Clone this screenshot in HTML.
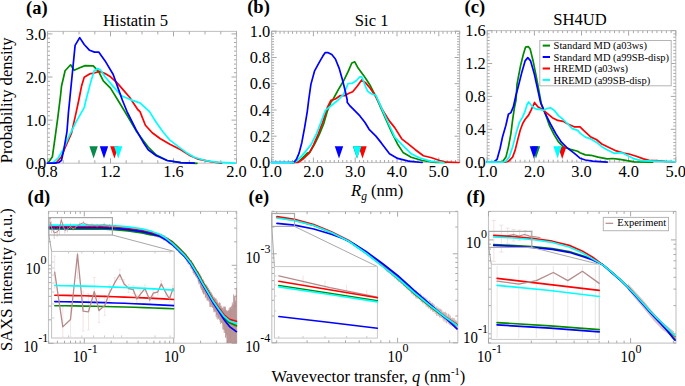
<!DOCTYPE html><html><head><meta charset="utf-8"><style>html,body{margin:0;padding:0;background:#fff;overflow:hidden;}svg{display:block;}text{font-family:"Liberation Serif",serif;fill:#000;}</style></head><body>
<svg width="685" height="386" viewBox="0 0 685 386">
<defs><clipPath id="cd"><rect x="51.6" y="251.4" width="122.6" height="86.6"/></clipPath><clipPath id="ce"><rect x="274.4" y="266.6" width="103" height="71.5"/></clipPath><clipPath id="cf"><rect x="491.3" y="264.3" width="107.9" height="75.1"/></clipPath></defs>
<rect x="47.5" y="31.4" width="189.0" height="131.79999999999998" fill="none" stroke="#c4c4c4" stroke-width="1.1"/>
<line x1="63.2" y1="31.4" x2="63.2" y2="34.4" stroke="#a8a8a8" stroke-width="1"/>
<line x1="63.2" y1="163.2" x2="63.2" y2="160.2" stroke="#a8a8a8" stroke-width="1"/>
<line x1="79.0" y1="31.4" x2="79.0" y2="34.4" stroke="#a8a8a8" stroke-width="1"/>
<line x1="79.0" y1="163.2" x2="79.0" y2="160.2" stroke="#a8a8a8" stroke-width="1"/>
<line x1="94.8" y1="31.4" x2="94.8" y2="34.4" stroke="#a8a8a8" stroke-width="1"/>
<line x1="94.8" y1="163.2" x2="94.8" y2="160.2" stroke="#a8a8a8" stroke-width="1"/>
<line x1="126.2" y1="31.4" x2="126.2" y2="34.4" stroke="#a8a8a8" stroke-width="1"/>
<line x1="126.2" y1="163.2" x2="126.2" y2="160.2" stroke="#a8a8a8" stroke-width="1"/>
<line x1="142.0" y1="31.4" x2="142.0" y2="34.4" stroke="#a8a8a8" stroke-width="1"/>
<line x1="142.0" y1="163.2" x2="142.0" y2="160.2" stroke="#a8a8a8" stroke-width="1"/>
<line x1="157.8" y1="31.4" x2="157.8" y2="34.4" stroke="#a8a8a8" stroke-width="1"/>
<line x1="157.8" y1="163.2" x2="157.8" y2="160.2" stroke="#a8a8a8" stroke-width="1"/>
<line x1="189.3" y1="31.4" x2="189.3" y2="34.4" stroke="#a8a8a8" stroke-width="1"/>
<line x1="189.3" y1="163.2" x2="189.3" y2="160.2" stroke="#a8a8a8" stroke-width="1"/>
<line x1="205.0" y1="31.4" x2="205.0" y2="34.4" stroke="#a8a8a8" stroke-width="1"/>
<line x1="205.0" y1="163.2" x2="205.0" y2="160.2" stroke="#a8a8a8" stroke-width="1"/>
<line x1="220.8" y1="31.4" x2="220.8" y2="34.4" stroke="#a8a8a8" stroke-width="1"/>
<line x1="220.8" y1="163.2" x2="220.8" y2="160.2" stroke="#a8a8a8" stroke-width="1"/>
<line x1="47.5" y1="31.4" x2="47.5" y2="36.4" stroke="#a8a8a8" stroke-width="1"/>
<line x1="47.5" y1="163.2" x2="47.5" y2="158.2" stroke="#a8a8a8" stroke-width="1"/>
<line x1="110.5" y1="31.4" x2="110.5" y2="36.4" stroke="#a8a8a8" stroke-width="1"/>
<line x1="110.5" y1="163.2" x2="110.5" y2="158.2" stroke="#a8a8a8" stroke-width="1"/>
<line x1="173.5" y1="31.4" x2="173.5" y2="36.4" stroke="#a8a8a8" stroke-width="1"/>
<line x1="173.5" y1="163.2" x2="173.5" y2="158.2" stroke="#a8a8a8" stroke-width="1"/>
<line x1="236.5" y1="31.4" x2="236.5" y2="36.4" stroke="#a8a8a8" stroke-width="1"/>
<line x1="236.5" y1="163.2" x2="236.5" y2="158.2" stroke="#a8a8a8" stroke-width="1"/>
<line x1="47.5" y1="158.9" x2="50.0" y2="158.9" stroke="#a8a8a8" stroke-width="1"/>
<line x1="236.5" y1="158.9" x2="234.0" y2="158.9" stroke="#a8a8a8" stroke-width="1"/>
<line x1="47.5" y1="154.6" x2="50.0" y2="154.6" stroke="#a8a8a8" stroke-width="1"/>
<line x1="236.5" y1="154.6" x2="234.0" y2="154.6" stroke="#a8a8a8" stroke-width="1"/>
<line x1="47.5" y1="150.3" x2="50.0" y2="150.3" stroke="#a8a8a8" stroke-width="1"/>
<line x1="236.5" y1="150.3" x2="234.0" y2="150.3" stroke="#a8a8a8" stroke-width="1"/>
<line x1="47.5" y1="146.0" x2="50.0" y2="146.0" stroke="#a8a8a8" stroke-width="1"/>
<line x1="236.5" y1="146.0" x2="234.0" y2="146.0" stroke="#a8a8a8" stroke-width="1"/>
<line x1="47.5" y1="141.6" x2="50.0" y2="141.6" stroke="#a8a8a8" stroke-width="1"/>
<line x1="236.5" y1="141.6" x2="234.0" y2="141.6" stroke="#a8a8a8" stroke-width="1"/>
<line x1="47.5" y1="137.3" x2="50.0" y2="137.3" stroke="#a8a8a8" stroke-width="1"/>
<line x1="236.5" y1="137.3" x2="234.0" y2="137.3" stroke="#a8a8a8" stroke-width="1"/>
<line x1="47.5" y1="133.0" x2="50.0" y2="133.0" stroke="#a8a8a8" stroke-width="1"/>
<line x1="236.5" y1="133.0" x2="234.0" y2="133.0" stroke="#a8a8a8" stroke-width="1"/>
<line x1="47.5" y1="128.7" x2="50.0" y2="128.7" stroke="#a8a8a8" stroke-width="1"/>
<line x1="236.5" y1="128.7" x2="234.0" y2="128.7" stroke="#a8a8a8" stroke-width="1"/>
<line x1="47.5" y1="124.4" x2="50.0" y2="124.4" stroke="#a8a8a8" stroke-width="1"/>
<line x1="236.5" y1="124.4" x2="234.0" y2="124.4" stroke="#a8a8a8" stroke-width="1"/>
<line x1="47.5" y1="115.8" x2="50.0" y2="115.8" stroke="#a8a8a8" stroke-width="1"/>
<line x1="236.5" y1="115.8" x2="234.0" y2="115.8" stroke="#a8a8a8" stroke-width="1"/>
<line x1="47.5" y1="111.5" x2="50.0" y2="111.5" stroke="#a8a8a8" stroke-width="1"/>
<line x1="236.5" y1="111.5" x2="234.0" y2="111.5" stroke="#a8a8a8" stroke-width="1"/>
<line x1="47.5" y1="107.2" x2="50.0" y2="107.2" stroke="#a8a8a8" stroke-width="1"/>
<line x1="236.5" y1="107.2" x2="234.0" y2="107.2" stroke="#a8a8a8" stroke-width="1"/>
<line x1="47.5" y1="102.9" x2="50.0" y2="102.9" stroke="#a8a8a8" stroke-width="1"/>
<line x1="236.5" y1="102.9" x2="234.0" y2="102.9" stroke="#a8a8a8" stroke-width="1"/>
<line x1="47.5" y1="98.5" x2="50.0" y2="98.5" stroke="#a8a8a8" stroke-width="1"/>
<line x1="236.5" y1="98.5" x2="234.0" y2="98.5" stroke="#a8a8a8" stroke-width="1"/>
<line x1="47.5" y1="94.2" x2="50.0" y2="94.2" stroke="#a8a8a8" stroke-width="1"/>
<line x1="236.5" y1="94.2" x2="234.0" y2="94.2" stroke="#a8a8a8" stroke-width="1"/>
<line x1="47.5" y1="89.9" x2="50.0" y2="89.9" stroke="#a8a8a8" stroke-width="1"/>
<line x1="236.5" y1="89.9" x2="234.0" y2="89.9" stroke="#a8a8a8" stroke-width="1"/>
<line x1="47.5" y1="85.6" x2="50.0" y2="85.6" stroke="#a8a8a8" stroke-width="1"/>
<line x1="236.5" y1="85.6" x2="234.0" y2="85.6" stroke="#a8a8a8" stroke-width="1"/>
<line x1="47.5" y1="81.3" x2="50.0" y2="81.3" stroke="#a8a8a8" stroke-width="1"/>
<line x1="236.5" y1="81.3" x2="234.0" y2="81.3" stroke="#a8a8a8" stroke-width="1"/>
<line x1="47.5" y1="72.7" x2="50.0" y2="72.7" stroke="#a8a8a8" stroke-width="1"/>
<line x1="236.5" y1="72.7" x2="234.0" y2="72.7" stroke="#a8a8a8" stroke-width="1"/>
<line x1="47.5" y1="68.4" x2="50.0" y2="68.4" stroke="#a8a8a8" stroke-width="1"/>
<line x1="236.5" y1="68.4" x2="234.0" y2="68.4" stroke="#a8a8a8" stroke-width="1"/>
<line x1="47.5" y1="64.1" x2="50.0" y2="64.1" stroke="#a8a8a8" stroke-width="1"/>
<line x1="236.5" y1="64.1" x2="234.0" y2="64.1" stroke="#a8a8a8" stroke-width="1"/>
<line x1="47.5" y1="59.8" x2="50.0" y2="59.8" stroke="#a8a8a8" stroke-width="1"/>
<line x1="236.5" y1="59.8" x2="234.0" y2="59.8" stroke="#a8a8a8" stroke-width="1"/>
<line x1="47.5" y1="55.4" x2="50.0" y2="55.4" stroke="#a8a8a8" stroke-width="1"/>
<line x1="236.5" y1="55.4" x2="234.0" y2="55.4" stroke="#a8a8a8" stroke-width="1"/>
<line x1="47.5" y1="51.1" x2="50.0" y2="51.1" stroke="#a8a8a8" stroke-width="1"/>
<line x1="236.5" y1="51.1" x2="234.0" y2="51.1" stroke="#a8a8a8" stroke-width="1"/>
<line x1="47.5" y1="46.8" x2="50.0" y2="46.8" stroke="#a8a8a8" stroke-width="1"/>
<line x1="236.5" y1="46.8" x2="234.0" y2="46.8" stroke="#a8a8a8" stroke-width="1"/>
<line x1="47.5" y1="42.5" x2="50.0" y2="42.5" stroke="#a8a8a8" stroke-width="1"/>
<line x1="236.5" y1="42.5" x2="234.0" y2="42.5" stroke="#a8a8a8" stroke-width="1"/>
<line x1="47.5" y1="38.2" x2="50.0" y2="38.2" stroke="#a8a8a8" stroke-width="1"/>
<line x1="236.5" y1="38.2" x2="234.0" y2="38.2" stroke="#a8a8a8" stroke-width="1"/>
<line x1="47.5" y1="163.2" x2="52.5" y2="163.2" stroke="#a8a8a8" stroke-width="1"/>
<line x1="236.5" y1="163.2" x2="231.5" y2="163.2" stroke="#a8a8a8" stroke-width="1"/>
<line x1="47.5" y1="120.1" x2="52.5" y2="120.1" stroke="#a8a8a8" stroke-width="1"/>
<line x1="236.5" y1="120.1" x2="231.5" y2="120.1" stroke="#a8a8a8" stroke-width="1"/>
<line x1="47.5" y1="77.0" x2="52.5" y2="77.0" stroke="#a8a8a8" stroke-width="1"/>
<line x1="236.5" y1="77.0" x2="231.5" y2="77.0" stroke="#a8a8a8" stroke-width="1"/>
<line x1="47.5" y1="33.9" x2="52.5" y2="33.9" stroke="#a8a8a8" stroke-width="1"/>
<line x1="236.5" y1="33.9" x2="231.5" y2="33.9" stroke="#a8a8a8" stroke-width="1"/>
<text x="46.2" y="168.89999999999998" font-size="16.4" text-anchor="end" font-weight="normal" font-style="normal" >0.0</text>
<text x="46.2" y="125.8" font-size="16.4" text-anchor="end" font-weight="normal" font-style="normal" >1.0</text>
<text x="46.2" y="82.69999999999999" font-size="16.4" text-anchor="end" font-weight="normal" font-style="normal" >2.0</text>
<text x="46.2" y="39.59999999999998" font-size="16.4" text-anchor="end" font-weight="normal" font-style="normal" >3.0</text>
<text x="47.5" y="176.5" font-size="16.4" text-anchor="middle" font-weight="normal" font-style="normal" >0.8</text>
<text x="110.49999999999999" y="176.5" font-size="16.4" text-anchor="middle" font-weight="normal" font-style="normal" >1.2</text>
<text x="173.5" y="176.5" font-size="16.4" text-anchor="middle" font-weight="normal" font-style="normal" >1.6</text>
<text x="236.5" y="176.5" font-size="16.4" text-anchor="middle" font-weight="normal" font-style="normal" >2.0</text>
<polyline points="47.9,163.0 50.6,159.4 52.4,156.7 55.2,136.7 57.9,116.8 60.6,95.0 61.5,86.3 65.1,70.8 70.6,64.8 74.2,70.3 79.7,67.7 85.1,65.6 93.3,65.9 98.7,71.7 103.3,80.8 110.5,88.1 117.8,100.0 126.9,115.0 135.9,130.4 143.2,140.4 148.2,147.0 156.3,155.1 167.2,160.5 180.8,162.7 197.0,163.3" fill="none" stroke="#008a00" stroke-width="1.7" stroke-linejoin="round" stroke-linecap="round" />
<polyline points="47.5,163.2 56.1,163.0 61.5,156.7 65.1,147.6 71.5,133.1 76.0,113.1 78.8,100.0 81.5,86.3 84.2,77.2 89.6,73.9 94.2,73.0 99.6,71.4 105.1,73.6 110.5,76.8 116.9,82.6 123.2,89.9 129.6,97.2 137.7,109.5 140.0,111.6 145.4,125.2 152.2,132.8 160.4,138.8 169.9,144.2 180.8,149.7 190.3,155.7 198.4,159.2 210.7,161.6 221.5,163.2" fill="none" stroke="#ff0000" stroke-width="1.7" stroke-linejoin="round" stroke-linecap="round" />
<polyline points="47.5,163.2 52.4,163.0 57.9,158.5 63.3,149.4 68.8,136.7 76.0,122.2 84.2,107.7 86.0,100.0 90.6,82.6 94.2,70.8 97.8,68.5 100.5,69.9 105.1,76.8 111.4,84.4 118.7,92.6 121.4,95.9 125.0,97.2 132.3,100.4 140.0,102.9 149.5,111.6 156.3,122.5 163.1,132.0 169.9,140.2 178.0,146.4 186.2,152.4 194.3,157.3 205.2,160.5 216.1,162.2 235.0,163.2" fill="none" stroke="#00ffff" stroke-width="1.7" stroke-linejoin="round" stroke-linecap="round" />
<polyline points="47.5,163.2 54.3,163.1 58.8,162.5 61.5,160.3 64.2,147.6 67.0,131.3 68.4,113.1 70.2,95.0 75.1,45.4 79.7,37.6 84.2,44.5 89.6,50.3 94.5,52.1 98.7,52.1 105.1,60.9 113.2,74.5 118.7,89.9 122.3,100.0 126.9,111.3 135.9,129.5 143.2,142.2 148.2,149.7 156.3,155.7 167.2,160.5 180.8,162.7 194.3,163.2" fill="none" stroke="#0000ff" stroke-width="1.7" stroke-linejoin="round" stroke-linecap="round" />
<polygon points="89.4,146.3 97.8,146.3 93.6,158.5" fill="#0a8a4a"/>
<polygon points="99.8,146.3 108.2,146.3 104.0,158.5" fill="#0000ff"/>
<polygon points="110.2,146.3 118.6,146.3 114.4,158.5" fill="#ff0000"/>
<polygon points="114.0,146.3 122.4,146.3 118.2,158.5" fill="#00ffff"/>
<rect x="271.6" y="31.3" width="188.0" height="131.2" fill="none" stroke="#c4c4c4" stroke-width="1.1"/>
<line x1="275.8" y1="31.3" x2="275.8" y2="33.8" stroke="#a8a8a8" stroke-width="1"/>
<line x1="275.8" y1="162.5" x2="275.8" y2="160.0" stroke="#a8a8a8" stroke-width="1"/>
<line x1="280.0" y1="31.3" x2="280.0" y2="33.8" stroke="#a8a8a8" stroke-width="1"/>
<line x1="280.0" y1="162.5" x2="280.0" y2="160.0" stroke="#a8a8a8" stroke-width="1"/>
<line x1="284.1" y1="31.3" x2="284.1" y2="33.8" stroke="#a8a8a8" stroke-width="1"/>
<line x1="284.1" y1="162.5" x2="284.1" y2="160.0" stroke="#a8a8a8" stroke-width="1"/>
<line x1="288.3" y1="31.3" x2="288.3" y2="33.8" stroke="#a8a8a8" stroke-width="1"/>
<line x1="288.3" y1="162.5" x2="288.3" y2="160.0" stroke="#a8a8a8" stroke-width="1"/>
<line x1="292.5" y1="31.3" x2="292.5" y2="33.8" stroke="#a8a8a8" stroke-width="1"/>
<line x1="292.5" y1="162.5" x2="292.5" y2="160.0" stroke="#a8a8a8" stroke-width="1"/>
<line x1="296.7" y1="31.3" x2="296.7" y2="33.8" stroke="#a8a8a8" stroke-width="1"/>
<line x1="296.7" y1="162.5" x2="296.7" y2="160.0" stroke="#a8a8a8" stroke-width="1"/>
<line x1="300.9" y1="31.3" x2="300.9" y2="33.8" stroke="#a8a8a8" stroke-width="1"/>
<line x1="300.9" y1="162.5" x2="300.9" y2="160.0" stroke="#a8a8a8" stroke-width="1"/>
<line x1="305.0" y1="31.3" x2="305.0" y2="33.8" stroke="#a8a8a8" stroke-width="1"/>
<line x1="305.0" y1="162.5" x2="305.0" y2="160.0" stroke="#a8a8a8" stroke-width="1"/>
<line x1="309.2" y1="31.3" x2="309.2" y2="33.8" stroke="#a8a8a8" stroke-width="1"/>
<line x1="309.2" y1="162.5" x2="309.2" y2="160.0" stroke="#a8a8a8" stroke-width="1"/>
<line x1="317.6" y1="31.3" x2="317.6" y2="33.8" stroke="#a8a8a8" stroke-width="1"/>
<line x1="317.6" y1="162.5" x2="317.6" y2="160.0" stroke="#a8a8a8" stroke-width="1"/>
<line x1="321.8" y1="31.3" x2="321.8" y2="33.8" stroke="#a8a8a8" stroke-width="1"/>
<line x1="321.8" y1="162.5" x2="321.8" y2="160.0" stroke="#a8a8a8" stroke-width="1"/>
<line x1="325.9" y1="31.3" x2="325.9" y2="33.8" stroke="#a8a8a8" stroke-width="1"/>
<line x1="325.9" y1="162.5" x2="325.9" y2="160.0" stroke="#a8a8a8" stroke-width="1"/>
<line x1="330.1" y1="31.3" x2="330.1" y2="33.8" stroke="#a8a8a8" stroke-width="1"/>
<line x1="330.1" y1="162.5" x2="330.1" y2="160.0" stroke="#a8a8a8" stroke-width="1"/>
<line x1="334.3" y1="31.3" x2="334.3" y2="33.8" stroke="#a8a8a8" stroke-width="1"/>
<line x1="334.3" y1="162.5" x2="334.3" y2="160.0" stroke="#a8a8a8" stroke-width="1"/>
<line x1="338.5" y1="31.3" x2="338.5" y2="33.8" stroke="#a8a8a8" stroke-width="1"/>
<line x1="338.5" y1="162.5" x2="338.5" y2="160.0" stroke="#a8a8a8" stroke-width="1"/>
<line x1="342.7" y1="31.3" x2="342.7" y2="33.8" stroke="#a8a8a8" stroke-width="1"/>
<line x1="342.7" y1="162.5" x2="342.7" y2="160.0" stroke="#a8a8a8" stroke-width="1"/>
<line x1="346.8" y1="31.3" x2="346.8" y2="33.8" stroke="#a8a8a8" stroke-width="1"/>
<line x1="346.8" y1="162.5" x2="346.8" y2="160.0" stroke="#a8a8a8" stroke-width="1"/>
<line x1="351.0" y1="31.3" x2="351.0" y2="33.8" stroke="#a8a8a8" stroke-width="1"/>
<line x1="351.0" y1="162.5" x2="351.0" y2="160.0" stroke="#a8a8a8" stroke-width="1"/>
<line x1="359.4" y1="31.3" x2="359.4" y2="33.8" stroke="#a8a8a8" stroke-width="1"/>
<line x1="359.4" y1="162.5" x2="359.4" y2="160.0" stroke="#a8a8a8" stroke-width="1"/>
<line x1="363.6" y1="31.3" x2="363.6" y2="33.8" stroke="#a8a8a8" stroke-width="1"/>
<line x1="363.6" y1="162.5" x2="363.6" y2="160.0" stroke="#a8a8a8" stroke-width="1"/>
<line x1="367.7" y1="31.3" x2="367.7" y2="33.8" stroke="#a8a8a8" stroke-width="1"/>
<line x1="367.7" y1="162.5" x2="367.7" y2="160.0" stroke="#a8a8a8" stroke-width="1"/>
<line x1="371.9" y1="31.3" x2="371.9" y2="33.8" stroke="#a8a8a8" stroke-width="1"/>
<line x1="371.9" y1="162.5" x2="371.9" y2="160.0" stroke="#a8a8a8" stroke-width="1"/>
<line x1="376.1" y1="31.3" x2="376.1" y2="33.8" stroke="#a8a8a8" stroke-width="1"/>
<line x1="376.1" y1="162.5" x2="376.1" y2="160.0" stroke="#a8a8a8" stroke-width="1"/>
<line x1="380.3" y1="31.3" x2="380.3" y2="33.8" stroke="#a8a8a8" stroke-width="1"/>
<line x1="380.3" y1="162.5" x2="380.3" y2="160.0" stroke="#a8a8a8" stroke-width="1"/>
<line x1="384.5" y1="31.3" x2="384.5" y2="33.8" stroke="#a8a8a8" stroke-width="1"/>
<line x1="384.5" y1="162.5" x2="384.5" y2="160.0" stroke="#a8a8a8" stroke-width="1"/>
<line x1="388.6" y1="31.3" x2="388.6" y2="33.8" stroke="#a8a8a8" stroke-width="1"/>
<line x1="388.6" y1="162.5" x2="388.6" y2="160.0" stroke="#a8a8a8" stroke-width="1"/>
<line x1="392.8" y1="31.3" x2="392.8" y2="33.8" stroke="#a8a8a8" stroke-width="1"/>
<line x1="392.8" y1="162.5" x2="392.8" y2="160.0" stroke="#a8a8a8" stroke-width="1"/>
<line x1="401.2" y1="31.3" x2="401.2" y2="33.8" stroke="#a8a8a8" stroke-width="1"/>
<line x1="401.2" y1="162.5" x2="401.2" y2="160.0" stroke="#a8a8a8" stroke-width="1"/>
<line x1="405.4" y1="31.3" x2="405.4" y2="33.8" stroke="#a8a8a8" stroke-width="1"/>
<line x1="405.4" y1="162.5" x2="405.4" y2="160.0" stroke="#a8a8a8" stroke-width="1"/>
<line x1="409.5" y1="31.3" x2="409.5" y2="33.8" stroke="#a8a8a8" stroke-width="1"/>
<line x1="409.5" y1="162.5" x2="409.5" y2="160.0" stroke="#a8a8a8" stroke-width="1"/>
<line x1="413.7" y1="31.3" x2="413.7" y2="33.8" stroke="#a8a8a8" stroke-width="1"/>
<line x1="413.7" y1="162.5" x2="413.7" y2="160.0" stroke="#a8a8a8" stroke-width="1"/>
<line x1="417.9" y1="31.3" x2="417.9" y2="33.8" stroke="#a8a8a8" stroke-width="1"/>
<line x1="417.9" y1="162.5" x2="417.9" y2="160.0" stroke="#a8a8a8" stroke-width="1"/>
<line x1="422.1" y1="31.3" x2="422.1" y2="33.8" stroke="#a8a8a8" stroke-width="1"/>
<line x1="422.1" y1="162.5" x2="422.1" y2="160.0" stroke="#a8a8a8" stroke-width="1"/>
<line x1="426.3" y1="31.3" x2="426.3" y2="33.8" stroke="#a8a8a8" stroke-width="1"/>
<line x1="426.3" y1="162.5" x2="426.3" y2="160.0" stroke="#a8a8a8" stroke-width="1"/>
<line x1="430.4" y1="31.3" x2="430.4" y2="33.8" stroke="#a8a8a8" stroke-width="1"/>
<line x1="430.4" y1="162.5" x2="430.4" y2="160.0" stroke="#a8a8a8" stroke-width="1"/>
<line x1="434.6" y1="31.3" x2="434.6" y2="33.8" stroke="#a8a8a8" stroke-width="1"/>
<line x1="434.6" y1="162.5" x2="434.6" y2="160.0" stroke="#a8a8a8" stroke-width="1"/>
<line x1="443.0" y1="31.3" x2="443.0" y2="33.8" stroke="#a8a8a8" stroke-width="1"/>
<line x1="443.0" y1="162.5" x2="443.0" y2="160.0" stroke="#a8a8a8" stroke-width="1"/>
<line x1="447.2" y1="31.3" x2="447.2" y2="33.8" stroke="#a8a8a8" stroke-width="1"/>
<line x1="447.2" y1="162.5" x2="447.2" y2="160.0" stroke="#a8a8a8" stroke-width="1"/>
<line x1="451.3" y1="31.3" x2="451.3" y2="33.8" stroke="#a8a8a8" stroke-width="1"/>
<line x1="451.3" y1="162.5" x2="451.3" y2="160.0" stroke="#a8a8a8" stroke-width="1"/>
<line x1="455.5" y1="31.3" x2="455.5" y2="33.8" stroke="#a8a8a8" stroke-width="1"/>
<line x1="455.5" y1="162.5" x2="455.5" y2="160.0" stroke="#a8a8a8" stroke-width="1"/>
<line x1="459.7" y1="31.3" x2="459.7" y2="33.8" stroke="#a8a8a8" stroke-width="1"/>
<line x1="459.7" y1="162.5" x2="459.7" y2="160.0" stroke="#a8a8a8" stroke-width="1"/>
<line x1="271.6" y1="31.3" x2="271.6" y2="36.3" stroke="#a8a8a8" stroke-width="1"/>
<line x1="271.6" y1="162.5" x2="271.6" y2="157.5" stroke="#a8a8a8" stroke-width="1"/>
<line x1="313.4" y1="31.3" x2="313.4" y2="36.3" stroke="#a8a8a8" stroke-width="1"/>
<line x1="313.4" y1="162.5" x2="313.4" y2="157.5" stroke="#a8a8a8" stroke-width="1"/>
<line x1="355.2" y1="31.3" x2="355.2" y2="36.3" stroke="#a8a8a8" stroke-width="1"/>
<line x1="355.2" y1="162.5" x2="355.2" y2="157.5" stroke="#a8a8a8" stroke-width="1"/>
<line x1="397.0" y1="31.3" x2="397.0" y2="36.3" stroke="#a8a8a8" stroke-width="1"/>
<line x1="397.0" y1="162.5" x2="397.0" y2="157.5" stroke="#a8a8a8" stroke-width="1"/>
<line x1="438.8" y1="31.3" x2="438.8" y2="36.3" stroke="#a8a8a8" stroke-width="1"/>
<line x1="438.8" y1="162.5" x2="438.8" y2="157.5" stroke="#a8a8a8" stroke-width="1"/>
<line x1="271.6" y1="159.9" x2="274.1" y2="159.9" stroke="#a8a8a8" stroke-width="1"/>
<line x1="459.6" y1="159.9" x2="457.1" y2="159.9" stroke="#a8a8a8" stroke-width="1"/>
<line x1="271.6" y1="157.2" x2="274.1" y2="157.2" stroke="#a8a8a8" stroke-width="1"/>
<line x1="459.6" y1="157.2" x2="457.1" y2="157.2" stroke="#a8a8a8" stroke-width="1"/>
<line x1="271.6" y1="154.6" x2="274.1" y2="154.6" stroke="#a8a8a8" stroke-width="1"/>
<line x1="459.6" y1="154.6" x2="457.1" y2="154.6" stroke="#a8a8a8" stroke-width="1"/>
<line x1="271.6" y1="152.0" x2="274.1" y2="152.0" stroke="#a8a8a8" stroke-width="1"/>
<line x1="459.6" y1="152.0" x2="457.1" y2="152.0" stroke="#a8a8a8" stroke-width="1"/>
<line x1="271.6" y1="149.4" x2="274.1" y2="149.4" stroke="#a8a8a8" stroke-width="1"/>
<line x1="459.6" y1="149.4" x2="457.1" y2="149.4" stroke="#a8a8a8" stroke-width="1"/>
<line x1="271.6" y1="146.7" x2="274.1" y2="146.7" stroke="#a8a8a8" stroke-width="1"/>
<line x1="459.6" y1="146.7" x2="457.1" y2="146.7" stroke="#a8a8a8" stroke-width="1"/>
<line x1="271.6" y1="144.1" x2="274.1" y2="144.1" stroke="#a8a8a8" stroke-width="1"/>
<line x1="459.6" y1="144.1" x2="457.1" y2="144.1" stroke="#a8a8a8" stroke-width="1"/>
<line x1="271.6" y1="141.5" x2="274.1" y2="141.5" stroke="#a8a8a8" stroke-width="1"/>
<line x1="459.6" y1="141.5" x2="457.1" y2="141.5" stroke="#a8a8a8" stroke-width="1"/>
<line x1="271.6" y1="138.9" x2="274.1" y2="138.9" stroke="#a8a8a8" stroke-width="1"/>
<line x1="459.6" y1="138.9" x2="457.1" y2="138.9" stroke="#a8a8a8" stroke-width="1"/>
<line x1="271.6" y1="133.6" x2="274.1" y2="133.6" stroke="#a8a8a8" stroke-width="1"/>
<line x1="459.6" y1="133.6" x2="457.1" y2="133.6" stroke="#a8a8a8" stroke-width="1"/>
<line x1="271.6" y1="131.0" x2="274.1" y2="131.0" stroke="#a8a8a8" stroke-width="1"/>
<line x1="459.6" y1="131.0" x2="457.1" y2="131.0" stroke="#a8a8a8" stroke-width="1"/>
<line x1="271.6" y1="128.4" x2="274.1" y2="128.4" stroke="#a8a8a8" stroke-width="1"/>
<line x1="459.6" y1="128.4" x2="457.1" y2="128.4" stroke="#a8a8a8" stroke-width="1"/>
<line x1="271.6" y1="125.7" x2="274.1" y2="125.7" stroke="#a8a8a8" stroke-width="1"/>
<line x1="459.6" y1="125.7" x2="457.1" y2="125.7" stroke="#a8a8a8" stroke-width="1"/>
<line x1="271.6" y1="123.1" x2="274.1" y2="123.1" stroke="#a8a8a8" stroke-width="1"/>
<line x1="459.6" y1="123.1" x2="457.1" y2="123.1" stroke="#a8a8a8" stroke-width="1"/>
<line x1="271.6" y1="120.5" x2="274.1" y2="120.5" stroke="#a8a8a8" stroke-width="1"/>
<line x1="459.6" y1="120.5" x2="457.1" y2="120.5" stroke="#a8a8a8" stroke-width="1"/>
<line x1="271.6" y1="117.9" x2="274.1" y2="117.9" stroke="#a8a8a8" stroke-width="1"/>
<line x1="459.6" y1="117.9" x2="457.1" y2="117.9" stroke="#a8a8a8" stroke-width="1"/>
<line x1="271.6" y1="115.2" x2="274.1" y2="115.2" stroke="#a8a8a8" stroke-width="1"/>
<line x1="459.6" y1="115.2" x2="457.1" y2="115.2" stroke="#a8a8a8" stroke-width="1"/>
<line x1="271.6" y1="112.6" x2="274.1" y2="112.6" stroke="#a8a8a8" stroke-width="1"/>
<line x1="459.6" y1="112.6" x2="457.1" y2="112.6" stroke="#a8a8a8" stroke-width="1"/>
<line x1="271.6" y1="107.4" x2="274.1" y2="107.4" stroke="#a8a8a8" stroke-width="1"/>
<line x1="459.6" y1="107.4" x2="457.1" y2="107.4" stroke="#a8a8a8" stroke-width="1"/>
<line x1="271.6" y1="104.7" x2="274.1" y2="104.7" stroke="#a8a8a8" stroke-width="1"/>
<line x1="459.6" y1="104.7" x2="457.1" y2="104.7" stroke="#a8a8a8" stroke-width="1"/>
<line x1="271.6" y1="102.1" x2="274.1" y2="102.1" stroke="#a8a8a8" stroke-width="1"/>
<line x1="459.6" y1="102.1" x2="457.1" y2="102.1" stroke="#a8a8a8" stroke-width="1"/>
<line x1="271.6" y1="99.5" x2="274.1" y2="99.5" stroke="#a8a8a8" stroke-width="1"/>
<line x1="459.6" y1="99.5" x2="457.1" y2="99.5" stroke="#a8a8a8" stroke-width="1"/>
<line x1="271.6" y1="96.8" x2="274.1" y2="96.8" stroke="#a8a8a8" stroke-width="1"/>
<line x1="459.6" y1="96.8" x2="457.1" y2="96.8" stroke="#a8a8a8" stroke-width="1"/>
<line x1="271.6" y1="94.2" x2="274.1" y2="94.2" stroke="#a8a8a8" stroke-width="1"/>
<line x1="459.6" y1="94.2" x2="457.1" y2="94.2" stroke="#a8a8a8" stroke-width="1"/>
<line x1="271.6" y1="91.6" x2="274.1" y2="91.6" stroke="#a8a8a8" stroke-width="1"/>
<line x1="459.6" y1="91.6" x2="457.1" y2="91.6" stroke="#a8a8a8" stroke-width="1"/>
<line x1="271.6" y1="89.0" x2="274.1" y2="89.0" stroke="#a8a8a8" stroke-width="1"/>
<line x1="459.6" y1="89.0" x2="457.1" y2="89.0" stroke="#a8a8a8" stroke-width="1"/>
<line x1="271.6" y1="86.3" x2="274.1" y2="86.3" stroke="#a8a8a8" stroke-width="1"/>
<line x1="459.6" y1="86.3" x2="457.1" y2="86.3" stroke="#a8a8a8" stroke-width="1"/>
<line x1="271.6" y1="81.1" x2="274.1" y2="81.1" stroke="#a8a8a8" stroke-width="1"/>
<line x1="459.6" y1="81.1" x2="457.1" y2="81.1" stroke="#a8a8a8" stroke-width="1"/>
<line x1="271.6" y1="78.5" x2="274.1" y2="78.5" stroke="#a8a8a8" stroke-width="1"/>
<line x1="459.6" y1="78.5" x2="457.1" y2="78.5" stroke="#a8a8a8" stroke-width="1"/>
<line x1="271.6" y1="75.8" x2="274.1" y2="75.8" stroke="#a8a8a8" stroke-width="1"/>
<line x1="459.6" y1="75.8" x2="457.1" y2="75.8" stroke="#a8a8a8" stroke-width="1"/>
<line x1="271.6" y1="73.2" x2="274.1" y2="73.2" stroke="#a8a8a8" stroke-width="1"/>
<line x1="459.6" y1="73.2" x2="457.1" y2="73.2" stroke="#a8a8a8" stroke-width="1"/>
<line x1="271.6" y1="70.6" x2="274.1" y2="70.6" stroke="#a8a8a8" stroke-width="1"/>
<line x1="459.6" y1="70.6" x2="457.1" y2="70.6" stroke="#a8a8a8" stroke-width="1"/>
<line x1="271.6" y1="68.0" x2="274.1" y2="68.0" stroke="#a8a8a8" stroke-width="1"/>
<line x1="459.6" y1="68.0" x2="457.1" y2="68.0" stroke="#a8a8a8" stroke-width="1"/>
<line x1="271.6" y1="65.3" x2="274.1" y2="65.3" stroke="#a8a8a8" stroke-width="1"/>
<line x1="459.6" y1="65.3" x2="457.1" y2="65.3" stroke="#a8a8a8" stroke-width="1"/>
<line x1="271.6" y1="62.7" x2="274.1" y2="62.7" stroke="#a8a8a8" stroke-width="1"/>
<line x1="459.6" y1="62.7" x2="457.1" y2="62.7" stroke="#a8a8a8" stroke-width="1"/>
<line x1="271.6" y1="60.1" x2="274.1" y2="60.1" stroke="#a8a8a8" stroke-width="1"/>
<line x1="459.6" y1="60.1" x2="457.1" y2="60.1" stroke="#a8a8a8" stroke-width="1"/>
<line x1="271.6" y1="54.8" x2="274.1" y2="54.8" stroke="#a8a8a8" stroke-width="1"/>
<line x1="459.6" y1="54.8" x2="457.1" y2="54.8" stroke="#a8a8a8" stroke-width="1"/>
<line x1="271.6" y1="52.2" x2="274.1" y2="52.2" stroke="#a8a8a8" stroke-width="1"/>
<line x1="459.6" y1="52.2" x2="457.1" y2="52.2" stroke="#a8a8a8" stroke-width="1"/>
<line x1="271.6" y1="49.6" x2="274.1" y2="49.6" stroke="#a8a8a8" stroke-width="1"/>
<line x1="459.6" y1="49.6" x2="457.1" y2="49.6" stroke="#a8a8a8" stroke-width="1"/>
<line x1="271.6" y1="47.0" x2="274.1" y2="47.0" stroke="#a8a8a8" stroke-width="1"/>
<line x1="459.6" y1="47.0" x2="457.1" y2="47.0" stroke="#a8a8a8" stroke-width="1"/>
<line x1="271.6" y1="44.3" x2="274.1" y2="44.3" stroke="#a8a8a8" stroke-width="1"/>
<line x1="459.6" y1="44.3" x2="457.1" y2="44.3" stroke="#a8a8a8" stroke-width="1"/>
<line x1="271.6" y1="41.7" x2="274.1" y2="41.7" stroke="#a8a8a8" stroke-width="1"/>
<line x1="459.6" y1="41.7" x2="457.1" y2="41.7" stroke="#a8a8a8" stroke-width="1"/>
<line x1="271.6" y1="39.1" x2="274.1" y2="39.1" stroke="#a8a8a8" stroke-width="1"/>
<line x1="459.6" y1="39.1" x2="457.1" y2="39.1" stroke="#a8a8a8" stroke-width="1"/>
<line x1="271.6" y1="36.5" x2="274.1" y2="36.5" stroke="#a8a8a8" stroke-width="1"/>
<line x1="459.6" y1="36.5" x2="457.1" y2="36.5" stroke="#a8a8a8" stroke-width="1"/>
<line x1="271.6" y1="33.8" x2="274.1" y2="33.8" stroke="#a8a8a8" stroke-width="1"/>
<line x1="459.6" y1="33.8" x2="457.1" y2="33.8" stroke="#a8a8a8" stroke-width="1"/>
<line x1="271.6" y1="162.5" x2="276.6" y2="162.5" stroke="#a8a8a8" stroke-width="1"/>
<line x1="459.6" y1="162.5" x2="454.6" y2="162.5" stroke="#a8a8a8" stroke-width="1"/>
<line x1="271.6" y1="136.2" x2="276.6" y2="136.2" stroke="#a8a8a8" stroke-width="1"/>
<line x1="459.6" y1="136.2" x2="454.6" y2="136.2" stroke="#a8a8a8" stroke-width="1"/>
<line x1="271.6" y1="110.0" x2="276.6" y2="110.0" stroke="#a8a8a8" stroke-width="1"/>
<line x1="459.6" y1="110.0" x2="454.6" y2="110.0" stroke="#a8a8a8" stroke-width="1"/>
<line x1="271.6" y1="83.7" x2="276.6" y2="83.7" stroke="#a8a8a8" stroke-width="1"/>
<line x1="459.6" y1="83.7" x2="454.6" y2="83.7" stroke="#a8a8a8" stroke-width="1"/>
<line x1="271.6" y1="57.5" x2="276.6" y2="57.5" stroke="#a8a8a8" stroke-width="1"/>
<line x1="459.6" y1="57.5" x2="454.6" y2="57.5" stroke="#a8a8a8" stroke-width="1"/>
<line x1="271.6" y1="31.2" x2="276.6" y2="31.2" stroke="#a8a8a8" stroke-width="1"/>
<line x1="459.6" y1="31.2" x2="454.6" y2="31.2" stroke="#a8a8a8" stroke-width="1"/>
<text x="270.2" y="168.2" font-size="16.4" text-anchor="end" font-weight="normal" font-style="normal" >0.0</text>
<text x="270.2" y="141.94" font-size="16.4" text-anchor="end" font-weight="normal" font-style="normal" >0.2</text>
<text x="270.2" y="115.67999999999999" font-size="16.4" text-anchor="end" font-weight="normal" font-style="normal" >0.4</text>
<text x="270.2" y="89.41999999999999" font-size="16.4" text-anchor="end" font-weight="normal" font-style="normal" >0.6</text>
<text x="270.2" y="63.15999999999998" font-size="16.4" text-anchor="end" font-weight="normal" font-style="normal" >0.8</text>
<text x="270.2" y="36.89999999999999" font-size="16.4" text-anchor="end" font-weight="normal" font-style="normal" >1.0</text>
<text x="271.6" y="176.5" font-size="16.4" text-anchor="middle" font-weight="normal" font-style="normal" >1.0</text>
<text x="313.40000000000003" y="176.5" font-size="16.4" text-anchor="middle" font-weight="normal" font-style="normal" >2.0</text>
<text x="355.20000000000005" y="176.5" font-size="16.4" text-anchor="middle" font-weight="normal" font-style="normal" >3.0</text>
<text x="397.0" y="176.5" font-size="16.4" text-anchor="middle" font-weight="normal" font-style="normal" >4.0</text>
<text x="438.8" y="176.5" font-size="16.4" text-anchor="middle" font-weight="normal" font-style="normal" >5.0</text>
<polyline points="292.8,162.5 298.2,162.2 302.8,157.6 307.3,153.1 310.0,152.2 314.6,144.0 319.1,134.9 323.6,124.0 327.3,111.3 330.9,102.3 332.7,100.0 338.2,89.9 343.6,80.8 348.1,71.7 351.8,63.0 354.8,61.9 358.1,68.1 363.6,75.4 367.2,80.8 370.4,85.8 375.9,96.7 381.3,108.9 386.7,121.1 392.2,133.4 397.6,144.2 403.0,152.4 411.2,157.3 422.1,160.5 435.7,162.3 446.5,162.5" fill="none" stroke="#008a00" stroke-width="1.7" stroke-linejoin="round" stroke-linecap="round" />
<polyline points="290.0,162.5 298.2,162.3 303.7,158.5 309.1,153.1 313.6,144.9 318.2,134.0 322.7,122.2 327.3,107.7 330.9,100.4 335.4,99.0 340.0,95.7 344.5,95.7 349.0,93.2 352.7,91.7 357.2,86.3 361.7,79.9 365.4,82.6 370.4,88.5 375.9,96.7 382.7,110.3 389.5,121.1 394.9,127.9 401.7,138.8 408.5,144.2 415.3,149.7 423.4,155.7 431.6,157.8 439.7,160.5 446.5,162.2 459.0,162.5" fill="none" stroke="#ff0000" stroke-width="1.7" stroke-linejoin="round" stroke-linecap="round" />
<polyline points="271.6,162.5 292.8,162.5 296.4,161.2 301.0,156.7 306.4,150.4 310.9,144.9 316.4,134.0 320.9,122.2 325.4,110.4 338.2,100.0 343.6,94.4 348.1,83.5 351.8,83.5 356.3,80.8 359.9,76.8 361.7,76.8 365.4,86.3 367.7,91.3 371.8,94.0 375.9,95.3 381.3,107.6 388.1,122.5 394.9,137.4 403.0,145.6 411.2,153.8 419.3,157.8 430.2,161.1 443.8,162.5" fill="none" stroke="#00ffff" stroke-width="1.7" stroke-linejoin="round" stroke-linecap="round" />
<polyline points="271.6,162.5 293.7,162.5 296.4,159.4 299.1,153.1 301.9,142.2 304.6,127.7 307.3,111.3 308.7,100.0 310.9,84.4 314.6,70.8 319.1,62.7 322.7,56.3 325.1,52.7 328.2,52.7 331.8,54.5 335.4,59.0 339.1,68.1 342.7,80.8 345.4,91.7 347.2,100.0 347.2,102.3 350.0,105.9 354.5,110.4 359.9,115.9 365.0,122.5 369.1,129.3 375.9,136.1 381.3,142.9 389.5,153.8 397.6,158.4 408.5,161.1 422.1,162.5" fill="none" stroke="#0000ff" stroke-width="1.7" stroke-linejoin="round" stroke-linecap="round" />
<polyline points="271.6,162.5 293.5,162.5" fill="none" stroke="#00ffff" stroke-width="1.7" stroke-linejoin="round" stroke-linecap="round" />
<polygon points="334.8,146.3 343.2,146.3 339.0,158.5" fill="#0000ff"/>
<polygon points="358.3,146.3 366.7,146.3 362.5,158.5" fill="#ff0000"/>
<polygon points="352.8,146.3 361.2,146.3 357.0,158.5" fill="#0a8a4a"/>
<polygon points="353.0,146.3 361.4,146.3 357.2,158.5" fill="#00ffff"/>
<rect x="487.2" y="30.6" width="188.59999999999997" height="131.6" fill="none" stroke="#c4c4c4" stroke-width="1.1"/>
<line x1="491.9" y1="30.6" x2="491.9" y2="33.1" stroke="#a8a8a8" stroke-width="1"/>
<line x1="491.9" y1="162.2" x2="491.9" y2="159.7" stroke="#a8a8a8" stroke-width="1"/>
<line x1="496.6" y1="30.6" x2="496.6" y2="33.1" stroke="#a8a8a8" stroke-width="1"/>
<line x1="496.6" y1="162.2" x2="496.6" y2="159.7" stroke="#a8a8a8" stroke-width="1"/>
<line x1="501.3" y1="30.6" x2="501.3" y2="33.1" stroke="#a8a8a8" stroke-width="1"/>
<line x1="501.3" y1="162.2" x2="501.3" y2="159.7" stroke="#a8a8a8" stroke-width="1"/>
<line x1="506.1" y1="30.6" x2="506.1" y2="33.1" stroke="#a8a8a8" stroke-width="1"/>
<line x1="506.1" y1="162.2" x2="506.1" y2="159.7" stroke="#a8a8a8" stroke-width="1"/>
<line x1="510.8" y1="30.6" x2="510.8" y2="33.1" stroke="#a8a8a8" stroke-width="1"/>
<line x1="510.8" y1="162.2" x2="510.8" y2="159.7" stroke="#a8a8a8" stroke-width="1"/>
<line x1="515.5" y1="30.6" x2="515.5" y2="33.1" stroke="#a8a8a8" stroke-width="1"/>
<line x1="515.5" y1="162.2" x2="515.5" y2="159.7" stroke="#a8a8a8" stroke-width="1"/>
<line x1="520.2" y1="30.6" x2="520.2" y2="33.1" stroke="#a8a8a8" stroke-width="1"/>
<line x1="520.2" y1="162.2" x2="520.2" y2="159.7" stroke="#a8a8a8" stroke-width="1"/>
<line x1="524.9" y1="30.6" x2="524.9" y2="33.1" stroke="#a8a8a8" stroke-width="1"/>
<line x1="524.9" y1="162.2" x2="524.9" y2="159.7" stroke="#a8a8a8" stroke-width="1"/>
<line x1="529.6" y1="30.6" x2="529.6" y2="33.1" stroke="#a8a8a8" stroke-width="1"/>
<line x1="529.6" y1="162.2" x2="529.6" y2="159.7" stroke="#a8a8a8" stroke-width="1"/>
<line x1="539.1" y1="30.6" x2="539.1" y2="33.1" stroke="#a8a8a8" stroke-width="1"/>
<line x1="539.1" y1="162.2" x2="539.1" y2="159.7" stroke="#a8a8a8" stroke-width="1"/>
<line x1="543.8" y1="30.6" x2="543.8" y2="33.1" stroke="#a8a8a8" stroke-width="1"/>
<line x1="543.8" y1="162.2" x2="543.8" y2="159.7" stroke="#a8a8a8" stroke-width="1"/>
<line x1="548.5" y1="30.6" x2="548.5" y2="33.1" stroke="#a8a8a8" stroke-width="1"/>
<line x1="548.5" y1="162.2" x2="548.5" y2="159.7" stroke="#a8a8a8" stroke-width="1"/>
<line x1="553.2" y1="30.6" x2="553.2" y2="33.1" stroke="#a8a8a8" stroke-width="1"/>
<line x1="553.2" y1="162.2" x2="553.2" y2="159.7" stroke="#a8a8a8" stroke-width="1"/>
<line x1="557.9" y1="30.6" x2="557.9" y2="33.1" stroke="#a8a8a8" stroke-width="1"/>
<line x1="557.9" y1="162.2" x2="557.9" y2="159.7" stroke="#a8a8a8" stroke-width="1"/>
<line x1="562.6" y1="30.6" x2="562.6" y2="33.1" stroke="#a8a8a8" stroke-width="1"/>
<line x1="562.6" y1="162.2" x2="562.6" y2="159.7" stroke="#a8a8a8" stroke-width="1"/>
<line x1="567.4" y1="30.6" x2="567.4" y2="33.1" stroke="#a8a8a8" stroke-width="1"/>
<line x1="567.4" y1="162.2" x2="567.4" y2="159.7" stroke="#a8a8a8" stroke-width="1"/>
<line x1="572.1" y1="30.6" x2="572.1" y2="33.1" stroke="#a8a8a8" stroke-width="1"/>
<line x1="572.1" y1="162.2" x2="572.1" y2="159.7" stroke="#a8a8a8" stroke-width="1"/>
<line x1="576.8" y1="30.6" x2="576.8" y2="33.1" stroke="#a8a8a8" stroke-width="1"/>
<line x1="576.8" y1="162.2" x2="576.8" y2="159.7" stroke="#a8a8a8" stroke-width="1"/>
<line x1="586.2" y1="30.6" x2="586.2" y2="33.1" stroke="#a8a8a8" stroke-width="1"/>
<line x1="586.2" y1="162.2" x2="586.2" y2="159.7" stroke="#a8a8a8" stroke-width="1"/>
<line x1="590.9" y1="30.6" x2="590.9" y2="33.1" stroke="#a8a8a8" stroke-width="1"/>
<line x1="590.9" y1="162.2" x2="590.9" y2="159.7" stroke="#a8a8a8" stroke-width="1"/>
<line x1="595.6" y1="30.6" x2="595.6" y2="33.1" stroke="#a8a8a8" stroke-width="1"/>
<line x1="595.6" y1="162.2" x2="595.6" y2="159.7" stroke="#a8a8a8" stroke-width="1"/>
<line x1="600.4" y1="30.6" x2="600.4" y2="33.1" stroke="#a8a8a8" stroke-width="1"/>
<line x1="600.4" y1="162.2" x2="600.4" y2="159.7" stroke="#a8a8a8" stroke-width="1"/>
<line x1="605.1" y1="30.6" x2="605.1" y2="33.1" stroke="#a8a8a8" stroke-width="1"/>
<line x1="605.1" y1="162.2" x2="605.1" y2="159.7" stroke="#a8a8a8" stroke-width="1"/>
<line x1="609.8" y1="30.6" x2="609.8" y2="33.1" stroke="#a8a8a8" stroke-width="1"/>
<line x1="609.8" y1="162.2" x2="609.8" y2="159.7" stroke="#a8a8a8" stroke-width="1"/>
<line x1="614.5" y1="30.6" x2="614.5" y2="33.1" stroke="#a8a8a8" stroke-width="1"/>
<line x1="614.5" y1="162.2" x2="614.5" y2="159.7" stroke="#a8a8a8" stroke-width="1"/>
<line x1="619.2" y1="30.6" x2="619.2" y2="33.1" stroke="#a8a8a8" stroke-width="1"/>
<line x1="619.2" y1="162.2" x2="619.2" y2="159.7" stroke="#a8a8a8" stroke-width="1"/>
<line x1="623.9" y1="30.6" x2="623.9" y2="33.1" stroke="#a8a8a8" stroke-width="1"/>
<line x1="623.9" y1="162.2" x2="623.9" y2="159.7" stroke="#a8a8a8" stroke-width="1"/>
<line x1="633.4" y1="30.6" x2="633.4" y2="33.1" stroke="#a8a8a8" stroke-width="1"/>
<line x1="633.4" y1="162.2" x2="633.4" y2="159.7" stroke="#a8a8a8" stroke-width="1"/>
<line x1="638.1" y1="30.6" x2="638.1" y2="33.1" stroke="#a8a8a8" stroke-width="1"/>
<line x1="638.1" y1="162.2" x2="638.1" y2="159.7" stroke="#a8a8a8" stroke-width="1"/>
<line x1="642.8" y1="30.6" x2="642.8" y2="33.1" stroke="#a8a8a8" stroke-width="1"/>
<line x1="642.8" y1="162.2" x2="642.8" y2="159.7" stroke="#a8a8a8" stroke-width="1"/>
<line x1="647.5" y1="30.6" x2="647.5" y2="33.1" stroke="#a8a8a8" stroke-width="1"/>
<line x1="647.5" y1="162.2" x2="647.5" y2="159.7" stroke="#a8a8a8" stroke-width="1"/>
<line x1="652.2" y1="30.6" x2="652.2" y2="33.1" stroke="#a8a8a8" stroke-width="1"/>
<line x1="652.2" y1="162.2" x2="652.2" y2="159.7" stroke="#a8a8a8" stroke-width="1"/>
<line x1="656.9" y1="30.6" x2="656.9" y2="33.1" stroke="#a8a8a8" stroke-width="1"/>
<line x1="656.9" y1="162.2" x2="656.9" y2="159.7" stroke="#a8a8a8" stroke-width="1"/>
<line x1="661.7" y1="30.6" x2="661.7" y2="33.1" stroke="#a8a8a8" stroke-width="1"/>
<line x1="661.7" y1="162.2" x2="661.7" y2="159.7" stroke="#a8a8a8" stroke-width="1"/>
<line x1="666.4" y1="30.6" x2="666.4" y2="33.1" stroke="#a8a8a8" stroke-width="1"/>
<line x1="666.4" y1="162.2" x2="666.4" y2="159.7" stroke="#a8a8a8" stroke-width="1"/>
<line x1="671.1" y1="30.6" x2="671.1" y2="33.1" stroke="#a8a8a8" stroke-width="1"/>
<line x1="671.1" y1="162.2" x2="671.1" y2="159.7" stroke="#a8a8a8" stroke-width="1"/>
<line x1="487.2" y1="30.6" x2="487.2" y2="35.6" stroke="#a8a8a8" stroke-width="1"/>
<line x1="487.2" y1="162.2" x2="487.2" y2="157.2" stroke="#a8a8a8" stroke-width="1"/>
<line x1="534.4" y1="30.6" x2="534.4" y2="35.6" stroke="#a8a8a8" stroke-width="1"/>
<line x1="534.4" y1="162.2" x2="534.4" y2="157.2" stroke="#a8a8a8" stroke-width="1"/>
<line x1="581.5" y1="30.6" x2="581.5" y2="35.6" stroke="#a8a8a8" stroke-width="1"/>
<line x1="581.5" y1="162.2" x2="581.5" y2="157.2" stroke="#a8a8a8" stroke-width="1"/>
<line x1="628.6" y1="30.6" x2="628.6" y2="35.6" stroke="#a8a8a8" stroke-width="1"/>
<line x1="628.6" y1="162.2" x2="628.6" y2="157.2" stroke="#a8a8a8" stroke-width="1"/>
<line x1="675.8" y1="30.6" x2="675.8" y2="35.6" stroke="#a8a8a8" stroke-width="1"/>
<line x1="675.8" y1="162.2" x2="675.8" y2="157.2" stroke="#a8a8a8" stroke-width="1"/>
<line x1="487.2" y1="158.9" x2="489.7" y2="158.9" stroke="#a8a8a8" stroke-width="1"/>
<line x1="675.8" y1="158.9" x2="673.3" y2="158.9" stroke="#a8a8a8" stroke-width="1"/>
<line x1="487.2" y1="155.6" x2="489.7" y2="155.6" stroke="#a8a8a8" stroke-width="1"/>
<line x1="675.8" y1="155.6" x2="673.3" y2="155.6" stroke="#a8a8a8" stroke-width="1"/>
<line x1="487.2" y1="152.3" x2="489.7" y2="152.3" stroke="#a8a8a8" stroke-width="1"/>
<line x1="675.8" y1="152.3" x2="673.3" y2="152.3" stroke="#a8a8a8" stroke-width="1"/>
<line x1="487.2" y1="149.0" x2="489.7" y2="149.0" stroke="#a8a8a8" stroke-width="1"/>
<line x1="675.8" y1="149.0" x2="673.3" y2="149.0" stroke="#a8a8a8" stroke-width="1"/>
<line x1="487.2" y1="145.8" x2="489.7" y2="145.8" stroke="#a8a8a8" stroke-width="1"/>
<line x1="675.8" y1="145.8" x2="673.3" y2="145.8" stroke="#a8a8a8" stroke-width="1"/>
<line x1="487.2" y1="142.5" x2="489.7" y2="142.5" stroke="#a8a8a8" stroke-width="1"/>
<line x1="675.8" y1="142.5" x2="673.3" y2="142.5" stroke="#a8a8a8" stroke-width="1"/>
<line x1="487.2" y1="139.2" x2="489.7" y2="139.2" stroke="#a8a8a8" stroke-width="1"/>
<line x1="675.8" y1="139.2" x2="673.3" y2="139.2" stroke="#a8a8a8" stroke-width="1"/>
<line x1="487.2" y1="135.9" x2="489.7" y2="135.9" stroke="#a8a8a8" stroke-width="1"/>
<line x1="675.8" y1="135.9" x2="673.3" y2="135.9" stroke="#a8a8a8" stroke-width="1"/>
<line x1="487.2" y1="132.6" x2="489.7" y2="132.6" stroke="#a8a8a8" stroke-width="1"/>
<line x1="675.8" y1="132.6" x2="673.3" y2="132.6" stroke="#a8a8a8" stroke-width="1"/>
<line x1="487.2" y1="126.0" x2="489.7" y2="126.0" stroke="#a8a8a8" stroke-width="1"/>
<line x1="675.8" y1="126.0" x2="673.3" y2="126.0" stroke="#a8a8a8" stroke-width="1"/>
<line x1="487.2" y1="122.7" x2="489.7" y2="122.7" stroke="#a8a8a8" stroke-width="1"/>
<line x1="675.8" y1="122.7" x2="673.3" y2="122.7" stroke="#a8a8a8" stroke-width="1"/>
<line x1="487.2" y1="119.4" x2="489.7" y2="119.4" stroke="#a8a8a8" stroke-width="1"/>
<line x1="675.8" y1="119.4" x2="673.3" y2="119.4" stroke="#a8a8a8" stroke-width="1"/>
<line x1="487.2" y1="116.1" x2="489.7" y2="116.1" stroke="#a8a8a8" stroke-width="1"/>
<line x1="675.8" y1="116.1" x2="673.3" y2="116.1" stroke="#a8a8a8" stroke-width="1"/>
<line x1="487.2" y1="112.8" x2="489.7" y2="112.8" stroke="#a8a8a8" stroke-width="1"/>
<line x1="675.8" y1="112.8" x2="673.3" y2="112.8" stroke="#a8a8a8" stroke-width="1"/>
<line x1="487.2" y1="109.6" x2="489.7" y2="109.6" stroke="#a8a8a8" stroke-width="1"/>
<line x1="675.8" y1="109.6" x2="673.3" y2="109.6" stroke="#a8a8a8" stroke-width="1"/>
<line x1="487.2" y1="106.3" x2="489.7" y2="106.3" stroke="#a8a8a8" stroke-width="1"/>
<line x1="675.8" y1="106.3" x2="673.3" y2="106.3" stroke="#a8a8a8" stroke-width="1"/>
<line x1="487.2" y1="103.0" x2="489.7" y2="103.0" stroke="#a8a8a8" stroke-width="1"/>
<line x1="675.8" y1="103.0" x2="673.3" y2="103.0" stroke="#a8a8a8" stroke-width="1"/>
<line x1="487.2" y1="99.7" x2="489.7" y2="99.7" stroke="#a8a8a8" stroke-width="1"/>
<line x1="675.8" y1="99.7" x2="673.3" y2="99.7" stroke="#a8a8a8" stroke-width="1"/>
<line x1="487.2" y1="93.1" x2="489.7" y2="93.1" stroke="#a8a8a8" stroke-width="1"/>
<line x1="675.8" y1="93.1" x2="673.3" y2="93.1" stroke="#a8a8a8" stroke-width="1"/>
<line x1="487.2" y1="89.8" x2="489.7" y2="89.8" stroke="#a8a8a8" stroke-width="1"/>
<line x1="675.8" y1="89.8" x2="673.3" y2="89.8" stroke="#a8a8a8" stroke-width="1"/>
<line x1="487.2" y1="86.5" x2="489.7" y2="86.5" stroke="#a8a8a8" stroke-width="1"/>
<line x1="675.8" y1="86.5" x2="673.3" y2="86.5" stroke="#a8a8a8" stroke-width="1"/>
<line x1="487.2" y1="83.2" x2="489.7" y2="83.2" stroke="#a8a8a8" stroke-width="1"/>
<line x1="675.8" y1="83.2" x2="673.3" y2="83.2" stroke="#a8a8a8" stroke-width="1"/>
<line x1="487.2" y1="79.9" x2="489.7" y2="79.9" stroke="#a8a8a8" stroke-width="1"/>
<line x1="675.8" y1="79.9" x2="673.3" y2="79.9" stroke="#a8a8a8" stroke-width="1"/>
<line x1="487.2" y1="76.7" x2="489.7" y2="76.7" stroke="#a8a8a8" stroke-width="1"/>
<line x1="675.8" y1="76.7" x2="673.3" y2="76.7" stroke="#a8a8a8" stroke-width="1"/>
<line x1="487.2" y1="73.4" x2="489.7" y2="73.4" stroke="#a8a8a8" stroke-width="1"/>
<line x1="675.8" y1="73.4" x2="673.3" y2="73.4" stroke="#a8a8a8" stroke-width="1"/>
<line x1="487.2" y1="70.1" x2="489.7" y2="70.1" stroke="#a8a8a8" stroke-width="1"/>
<line x1="675.8" y1="70.1" x2="673.3" y2="70.1" stroke="#a8a8a8" stroke-width="1"/>
<line x1="487.2" y1="66.8" x2="489.7" y2="66.8" stroke="#a8a8a8" stroke-width="1"/>
<line x1="675.8" y1="66.8" x2="673.3" y2="66.8" stroke="#a8a8a8" stroke-width="1"/>
<line x1="487.2" y1="60.2" x2="489.7" y2="60.2" stroke="#a8a8a8" stroke-width="1"/>
<line x1="675.8" y1="60.2" x2="673.3" y2="60.2" stroke="#a8a8a8" stroke-width="1"/>
<line x1="487.2" y1="56.9" x2="489.7" y2="56.9" stroke="#a8a8a8" stroke-width="1"/>
<line x1="675.8" y1="56.9" x2="673.3" y2="56.9" stroke="#a8a8a8" stroke-width="1"/>
<line x1="487.2" y1="53.6" x2="489.7" y2="53.6" stroke="#a8a8a8" stroke-width="1"/>
<line x1="675.8" y1="53.6" x2="673.3" y2="53.6" stroke="#a8a8a8" stroke-width="1"/>
<line x1="487.2" y1="50.3" x2="489.7" y2="50.3" stroke="#a8a8a8" stroke-width="1"/>
<line x1="675.8" y1="50.3" x2="673.3" y2="50.3" stroke="#a8a8a8" stroke-width="1"/>
<line x1="487.2" y1="47.0" x2="489.7" y2="47.0" stroke="#a8a8a8" stroke-width="1"/>
<line x1="675.8" y1="47.0" x2="673.3" y2="47.0" stroke="#a8a8a8" stroke-width="1"/>
<line x1="487.2" y1="43.8" x2="489.7" y2="43.8" stroke="#a8a8a8" stroke-width="1"/>
<line x1="675.8" y1="43.8" x2="673.3" y2="43.8" stroke="#a8a8a8" stroke-width="1"/>
<line x1="487.2" y1="40.5" x2="489.7" y2="40.5" stroke="#a8a8a8" stroke-width="1"/>
<line x1="675.8" y1="40.5" x2="673.3" y2="40.5" stroke="#a8a8a8" stroke-width="1"/>
<line x1="487.2" y1="37.2" x2="489.7" y2="37.2" stroke="#a8a8a8" stroke-width="1"/>
<line x1="675.8" y1="37.2" x2="673.3" y2="37.2" stroke="#a8a8a8" stroke-width="1"/>
<line x1="487.2" y1="33.9" x2="489.7" y2="33.9" stroke="#a8a8a8" stroke-width="1"/>
<line x1="675.8" y1="33.9" x2="673.3" y2="33.9" stroke="#a8a8a8" stroke-width="1"/>
<line x1="487.2" y1="162.2" x2="492.2" y2="162.2" stroke="#a8a8a8" stroke-width="1"/>
<line x1="675.8" y1="162.2" x2="670.8" y2="162.2" stroke="#a8a8a8" stroke-width="1"/>
<line x1="487.2" y1="129.3" x2="492.2" y2="129.3" stroke="#a8a8a8" stroke-width="1"/>
<line x1="675.8" y1="129.3" x2="670.8" y2="129.3" stroke="#a8a8a8" stroke-width="1"/>
<line x1="487.2" y1="96.4" x2="492.2" y2="96.4" stroke="#a8a8a8" stroke-width="1"/>
<line x1="675.8" y1="96.4" x2="670.8" y2="96.4" stroke="#a8a8a8" stroke-width="1"/>
<line x1="487.2" y1="63.5" x2="492.2" y2="63.5" stroke="#a8a8a8" stroke-width="1"/>
<line x1="675.8" y1="63.5" x2="670.8" y2="63.5" stroke="#a8a8a8" stroke-width="1"/>
<line x1="487.2" y1="30.6" x2="492.2" y2="30.6" stroke="#a8a8a8" stroke-width="1"/>
<line x1="675.8" y1="30.6" x2="670.8" y2="30.6" stroke="#a8a8a8" stroke-width="1"/>
<text x="485.7" y="167.89999999999998" font-size="16.4" text-anchor="end" font-weight="normal" font-style="normal" >0.0</text>
<text x="485.7" y="134.99999999999997" font-size="16.4" text-anchor="end" font-weight="normal" font-style="normal" >0.4</text>
<text x="485.7" y="102.1" font-size="16.4" text-anchor="end" font-weight="normal" font-style="normal" >0.8</text>
<text x="485.7" y="69.19999999999997" font-size="16.4" text-anchor="end" font-weight="normal" font-style="normal" >1.2</text>
<text x="485.7" y="36.3" font-size="16.4" text-anchor="end" font-weight="normal" font-style="normal" >1.6</text>
<text x="487.2" y="176.5" font-size="16.4" text-anchor="middle" font-weight="normal" font-style="normal" >1.0</text>
<text x="534.35" y="176.5" font-size="16.4" text-anchor="middle" font-weight="normal" font-style="normal" >2.0</text>
<text x="581.5" y="176.5" font-size="16.4" text-anchor="middle" font-weight="normal" font-style="normal" >3.0</text>
<text x="628.65" y="176.5" font-size="16.4" text-anchor="middle" font-weight="normal" font-style="normal" >4.0</text>
<text x="675.8" y="176.5" font-size="16.4" text-anchor="middle" font-weight="normal" font-style="normal" >5.0</text>
<polyline points="487.2,162.2 500.0,162.2 502.5,161.8 505.9,157.1 508.4,147.1 510.9,133.6 512.6,120.2 514.3,108.4 516.0,100.0 517.0,84.4 520.6,65.4 523.3,54.5 525.5,47.2 528.4,46.7 530.2,49.1 533.3,61.8 536.9,79.9 541.4,104.1 545.1,113.1 549.6,125.9 554.2,134.9 558.7,142.2 563.2,146.7 570.5,149.4 577.7,151.3 580.0,152.7 585.4,154.9 590.9,155.3 598.1,157.1 607.2,158.9 612.7,158.5 619.9,159.4 627.2,160.7 634.4,161.8 652.6,162.2" fill="none" stroke="#008a00" stroke-width="1.7" stroke-linejoin="round" stroke-linecap="round" />
<polyline points="487.2,162.2 493.4,162.2 497.0,159.4 500.0,148.7 502.5,137.0 505.9,125.2 508.4,114.3 510.9,112.6 513.4,106.7 516.0,95.0 517.9,88.1 521.5,73.6 525.1,60.9 527.8,57.6 530.6,60.9 534.2,73.6 537.8,89.9 540.0,100.0 540.5,102.3 545.1,113.1 550.5,124.0 556.0,134.0 561.4,142.2 566.9,147.6 574.1,153.1 580.0,158.2 585.4,160.0 592.7,161.2 607.2,162.2" fill="none" stroke="#0000ff" stroke-width="1.7" stroke-linejoin="round" stroke-linecap="round" />
<polyline points="487.2,162.2 505.0,162.2 508.4,161.3 512.6,157.1 515.1,150.4 517.6,140.3 520.2,130.3 522.7,123.5 525.2,119.3 528.6,115.1 531.1,110.1 534.5,102.5 537.8,106.7 542.4,109.5 546.9,113.1 552.3,117.7 557.8,120.4 563.2,121.3 567.8,124.0 574.1,126.8 580.0,126.8 583.6,130.4 590.9,137.1 596.3,139.5 601.8,144.0 609.0,147.6 616.3,150.9 623.6,153.1 629.0,154.0 636.3,156.3 643.5,158.9 649.0,160.3 656.2,160.7 665.3,161.4 674.4,161.8" fill="none" stroke="#ff0000" stroke-width="1.7" stroke-linejoin="round" stroke-linecap="round" />
<polyline points="487.2,162.2 503.0,162.2 505.9,161.3 509.2,157.1 512.6,147.1 516.0,133.6 519.3,122.7 522.7,116.8 525.2,110.9 526.9,105.0 528.6,102.0 531.1,105.0 534.5,108.4 537.0,109.3 539.6,109.2 543.3,110.4 546.9,108.6 550.5,107.7 554.2,110.4 558.7,115.9 563.2,119.5 567.8,124.0 572.3,128.6 577.7,130.4 580.0,133.1 585.4,137.1 590.9,138.9 596.3,142.2 601.8,146.7 607.2,149.8 614.5,153.4 619.9,152.7 623.6,153.4 629.0,156.3 634.4,158.9 641.7,160.7 652.6,161.2 675.0,161.8" fill="none" stroke="#00ffff" stroke-width="1.7" stroke-linejoin="round" stroke-linecap="round" />
<polyline points="487.2,162.2 494.0,162.2" fill="none" stroke="#00ffff" stroke-width="1.7" stroke-linejoin="round" stroke-linecap="round" />
<polygon points="531.8,146.3 540.2,146.3 536.0,158.5" fill="#0a8a4a"/>
<polygon points="529.7,146.3 538.1,146.3 533.9,158.5" fill="#0000ff"/>
<polygon points="558.0,146.8 566.4,146.8 562.2,159.0" fill="#ff0000"/>
<polygon points="553.4,146.3 561.8,146.3 557.6,158.5" fill="#00ffff"/>
<rect x="539.8" y="40.5" width="131.4" height="45.3" fill="#fff" stroke="#b4b4b4" stroke-width="1"/>
<line x1="542.7" y1="45.6" x2="550" y2="45.6" stroke="#008a00" stroke-width="2"/>
<text x="553.6" y="49.300000000000004" font-size="10.5" text-anchor="start" font-weight="normal" font-style="normal" >Standard MD (a03ws)</text>
<line x1="542.7" y1="57.0" x2="550" y2="57.0" stroke="#0000ff" stroke-width="2"/>
<text x="553.6" y="60.75" font-size="10.5" text-anchor="start" font-weight="normal" font-style="normal" >Standard MD (a99SB-disp)</text>
<line x1="542.7" y1="68.5" x2="550" y2="68.5" stroke="#ff0000" stroke-width="2"/>
<text x="553.6" y="72.2" font-size="10.5" text-anchor="start" font-weight="normal" font-style="normal" >HREMD (a03ws)</text>
<line x1="542.7" y1="79.9" x2="550" y2="79.9" stroke="#00ffff" stroke-width="2"/>
<text x="553.6" y="83.64999999999999" font-size="10.5" text-anchor="start" font-weight="normal" font-style="normal" >HREMD (a99SB-disp)</text>
<text x="26.0" y="14.3" font-size="18.5" text-anchor="start" font-weight="bold" font-style="normal" >(a)</text>
<text x="247.2" y="12.6" font-size="18.5" text-anchor="start" font-weight="bold" font-style="normal" >(b)</text>
<text x="464.6" y="12.5" font-size="18.5" text-anchor="start" font-weight="bold" font-style="normal" >(c)</text>
<text x="135.6" y="25.8" font-size="16.6" text-anchor="middle" font-weight="normal" font-style="normal" >Histatin 5</text>
<text x="371.7" y="25.6" font-size="16.6" text-anchor="middle" font-weight="normal" font-style="normal" >Sic 1</text>
<text x="580.0" y="25.2" font-size="16.6" text-anchor="middle" font-weight="normal" font-style="normal" >SH4UD</text>
<text x="12" y="163.3" font-size="16.6" transform="rotate(-90 12 163.3)">Probability density</text>
<text x="12" y="351.0" font-size="16.6" transform="rotate(-90 12 351.0)">SAXS intensity (a.u.)</text>
<text x="351" y="196" font-size="16.6"><tspan font-style="italic">R</tspan><tspan font-style="italic" font-size="11.5" dy="3.5">g</tspan><tspan dy="-3.5"> (nm)</tspan></text>
<text x="271.5" y="381.6" font-size="16.5">Wavevector transfer, <tspan font-style="italic">q</tspan> (nm<tspan font-size="10.5" dy="-7">-1</tspan><tspan dy="7">)</tspan></text>
<rect x="48.5" y="211.4" width="188.2" height="131.79999999999998" fill="none" stroke="#c4c4c4" stroke-width="1.1"/>
<line x1="48.7" y1="211.4" x2="48.7" y2="213.9" stroke="#a8a8a8" stroke-width="1"/>
<line x1="48.7" y1="343.2" x2="48.7" y2="340.7" stroke="#a8a8a8" stroke-width="1"/>
<line x1="57.4" y1="211.4" x2="57.4" y2="213.9" stroke="#a8a8a8" stroke-width="1"/>
<line x1="57.4" y1="343.2" x2="57.4" y2="340.7" stroke="#a8a8a8" stroke-width="1"/>
<line x1="64.5" y1="211.4" x2="64.5" y2="213.9" stroke="#a8a8a8" stroke-width="1"/>
<line x1="64.5" y1="343.2" x2="64.5" y2="340.7" stroke="#a8a8a8" stroke-width="1"/>
<line x1="70.5" y1="211.4" x2="70.5" y2="213.9" stroke="#a8a8a8" stroke-width="1"/>
<line x1="70.5" y1="343.2" x2="70.5" y2="340.7" stroke="#a8a8a8" stroke-width="1"/>
<line x1="75.6" y1="211.4" x2="75.6" y2="213.9" stroke="#a8a8a8" stroke-width="1"/>
<line x1="75.6" y1="343.2" x2="75.6" y2="340.7" stroke="#a8a8a8" stroke-width="1"/>
<line x1="80.2" y1="211.4" x2="80.2" y2="213.9" stroke="#a8a8a8" stroke-width="1"/>
<line x1="80.2" y1="343.2" x2="80.2" y2="340.7" stroke="#a8a8a8" stroke-width="1"/>
<line x1="84.3" y1="211.4" x2="84.3" y2="216.4" stroke="#a8a8a8" stroke-width="1"/>
<line x1="84.3" y1="343.2" x2="84.3" y2="338.2" stroke="#a8a8a8" stroke-width="1"/>
<line x1="111.2" y1="211.4" x2="111.2" y2="213.9" stroke="#a8a8a8" stroke-width="1"/>
<line x1="111.2" y1="343.2" x2="111.2" y2="340.7" stroke="#a8a8a8" stroke-width="1"/>
<line x1="127.0" y1="211.4" x2="127.0" y2="213.9" stroke="#a8a8a8" stroke-width="1"/>
<line x1="127.0" y1="343.2" x2="127.0" y2="340.7" stroke="#a8a8a8" stroke-width="1"/>
<line x1="138.1" y1="211.4" x2="138.1" y2="213.9" stroke="#a8a8a8" stroke-width="1"/>
<line x1="138.1" y1="343.2" x2="138.1" y2="340.7" stroke="#a8a8a8" stroke-width="1"/>
<line x1="146.8" y1="211.4" x2="146.8" y2="213.9" stroke="#a8a8a8" stroke-width="1"/>
<line x1="146.8" y1="343.2" x2="146.8" y2="340.7" stroke="#a8a8a8" stroke-width="1"/>
<line x1="153.9" y1="211.4" x2="153.9" y2="213.9" stroke="#a8a8a8" stroke-width="1"/>
<line x1="153.9" y1="343.2" x2="153.9" y2="340.7" stroke="#a8a8a8" stroke-width="1"/>
<line x1="159.9" y1="211.4" x2="159.9" y2="213.9" stroke="#a8a8a8" stroke-width="1"/>
<line x1="159.9" y1="343.2" x2="159.9" y2="340.7" stroke="#a8a8a8" stroke-width="1"/>
<line x1="165.0" y1="211.4" x2="165.0" y2="213.9" stroke="#a8a8a8" stroke-width="1"/>
<line x1="165.0" y1="343.2" x2="165.0" y2="340.7" stroke="#a8a8a8" stroke-width="1"/>
<line x1="169.6" y1="211.4" x2="169.6" y2="213.9" stroke="#a8a8a8" stroke-width="1"/>
<line x1="169.6" y1="343.2" x2="169.6" y2="340.7" stroke="#a8a8a8" stroke-width="1"/>
<line x1="173.7" y1="211.4" x2="173.7" y2="216.4" stroke="#a8a8a8" stroke-width="1"/>
<line x1="173.7" y1="343.2" x2="173.7" y2="338.2" stroke="#a8a8a8" stroke-width="1"/>
<line x1="200.6" y1="211.4" x2="200.6" y2="213.9" stroke="#a8a8a8" stroke-width="1"/>
<line x1="200.6" y1="343.2" x2="200.6" y2="340.7" stroke="#a8a8a8" stroke-width="1"/>
<line x1="216.4" y1="211.4" x2="216.4" y2="213.9" stroke="#a8a8a8" stroke-width="1"/>
<line x1="216.4" y1="343.2" x2="216.4" y2="340.7" stroke="#a8a8a8" stroke-width="1"/>
<line x1="227.5" y1="211.4" x2="227.5" y2="213.9" stroke="#a8a8a8" stroke-width="1"/>
<line x1="227.5" y1="343.2" x2="227.5" y2="340.7" stroke="#a8a8a8" stroke-width="1"/>
<line x1="236.2" y1="211.4" x2="236.2" y2="213.9" stroke="#a8a8a8" stroke-width="1"/>
<line x1="236.2" y1="343.2" x2="236.2" y2="340.7" stroke="#a8a8a8" stroke-width="1"/>
<line x1="48.5" y1="343.3" x2="53.5" y2="343.3" stroke="#a8a8a8" stroke-width="1"/>
<line x1="236.7" y1="343.3" x2="231.7" y2="343.3" stroke="#a8a8a8" stroke-width="1"/>
<line x1="48.5" y1="319.8" x2="51.0" y2="319.8" stroke="#a8a8a8" stroke-width="1"/>
<line x1="236.7" y1="319.8" x2="234.2" y2="319.8" stroke="#a8a8a8" stroke-width="1"/>
<line x1="48.5" y1="306.1" x2="51.0" y2="306.1" stroke="#a8a8a8" stroke-width="1"/>
<line x1="236.7" y1="306.1" x2="234.2" y2="306.1" stroke="#a8a8a8" stroke-width="1"/>
<line x1="48.5" y1="296.3" x2="51.0" y2="296.3" stroke="#a8a8a8" stroke-width="1"/>
<line x1="236.7" y1="296.3" x2="234.2" y2="296.3" stroke="#a8a8a8" stroke-width="1"/>
<line x1="48.5" y1="288.8" x2="51.0" y2="288.8" stroke="#a8a8a8" stroke-width="1"/>
<line x1="236.7" y1="288.8" x2="234.2" y2="288.8" stroke="#a8a8a8" stroke-width="1"/>
<line x1="48.5" y1="282.6" x2="51.0" y2="282.6" stroke="#a8a8a8" stroke-width="1"/>
<line x1="236.7" y1="282.6" x2="234.2" y2="282.6" stroke="#a8a8a8" stroke-width="1"/>
<line x1="48.5" y1="277.4" x2="51.0" y2="277.4" stroke="#a8a8a8" stroke-width="1"/>
<line x1="236.7" y1="277.4" x2="234.2" y2="277.4" stroke="#a8a8a8" stroke-width="1"/>
<line x1="48.5" y1="272.9" x2="51.0" y2="272.9" stroke="#a8a8a8" stroke-width="1"/>
<line x1="236.7" y1="272.9" x2="234.2" y2="272.9" stroke="#a8a8a8" stroke-width="1"/>
<line x1="48.5" y1="268.9" x2="51.0" y2="268.9" stroke="#a8a8a8" stroke-width="1"/>
<line x1="236.7" y1="268.9" x2="234.2" y2="268.9" stroke="#a8a8a8" stroke-width="1"/>
<line x1="48.5" y1="265.3" x2="53.5" y2="265.3" stroke="#a8a8a8" stroke-width="1"/>
<line x1="236.7" y1="265.3" x2="231.7" y2="265.3" stroke="#a8a8a8" stroke-width="1"/>
<line x1="48.5" y1="241.8" x2="51.0" y2="241.8" stroke="#a8a8a8" stroke-width="1"/>
<line x1="236.7" y1="241.8" x2="234.2" y2="241.8" stroke="#a8a8a8" stroke-width="1"/>
<line x1="48.5" y1="228.1" x2="51.0" y2="228.1" stroke="#a8a8a8" stroke-width="1"/>
<line x1="236.7" y1="228.1" x2="234.2" y2="228.1" stroke="#a8a8a8" stroke-width="1"/>
<line x1="48.5" y1="218.3" x2="51.0" y2="218.3" stroke="#a8a8a8" stroke-width="1"/>
<line x1="236.7" y1="218.3" x2="234.2" y2="218.3" stroke="#a8a8a8" stroke-width="1"/>
<text x="25.5" y="274.0" font-size="16.4" textLength="14.8" lengthAdjust="spacingAndGlyphs">10</text>
<text x="40.5" y="264.4" font-size="12">0</text>
<text x="23.2" y="351.6" font-size="16.4" textLength="14.8" lengthAdjust="spacingAndGlyphs">10</text>
<text x="38.2" y="342.0" font-size="12">-1</text>
<text x="72.7" y="362.1" font-size="16.4" textLength="14.8" lengthAdjust="spacingAndGlyphs">10</text>
<text x="87.7" y="352.5" font-size="12">-1</text>
<text x="163.9" y="362.1" font-size="16.4" textLength="14.8" lengthAdjust="spacingAndGlyphs">10</text>
<text x="178.9" y="352.5" font-size="12">0</text>
<line x1="100.00" y1="225.8" x2="100.00" y2="228.4" stroke="#b48a8a" stroke-width="0.8" opacity="0.5"/>
<line x1="100.45" y1="225.5" x2="100.45" y2="228.4" stroke="#b48a8a" stroke-width="0.8" opacity="0.5"/>
<line x1="100.90" y1="225.7" x2="100.90" y2="228.7" stroke="#b48a8a" stroke-width="0.8" opacity="0.5"/>
<line x1="101.35" y1="226.1" x2="101.35" y2="228.8" stroke="#b48a8a" stroke-width="0.8" opacity="0.5"/>
<line x1="101.80" y1="226.1" x2="101.80" y2="228.8" stroke="#b48a8a" stroke-width="0.8" opacity="0.5"/>
<line x1="102.25" y1="226.1" x2="102.25" y2="228.5" stroke="#b48a8a" stroke-width="0.8" opacity="0.5"/>
<line x1="102.70" y1="225.8" x2="102.70" y2="229.2" stroke="#b48a8a" stroke-width="0.8" opacity="0.5"/>
<line x1="103.15" y1="226.1" x2="103.15" y2="228.7" stroke="#b48a8a" stroke-width="0.8" opacity="0.5"/>
<line x1="103.60" y1="225.7" x2="103.60" y2="229.3" stroke="#b48a8a" stroke-width="0.8" opacity="0.5"/>
<line x1="104.05" y1="225.7" x2="104.05" y2="228.9" stroke="#b48a8a" stroke-width="0.8" opacity="0.5"/>
<line x1="104.50" y1="225.4" x2="104.50" y2="228.6" stroke="#b48a8a" stroke-width="0.8" opacity="0.5"/>
<line x1="104.95" y1="225.5" x2="104.95" y2="228.8" stroke="#b48a8a" stroke-width="0.8" opacity="0.5"/>
<line x1="105.40" y1="226.2" x2="105.40" y2="228.7" stroke="#b48a8a" stroke-width="0.8" opacity="0.5"/>
<line x1="105.85" y1="226.0" x2="105.85" y2="229.4" stroke="#b48a8a" stroke-width="0.8" opacity="0.5"/>
<line x1="106.30" y1="226.2" x2="106.30" y2="229.2" stroke="#b48a8a" stroke-width="0.8" opacity="0.5"/>
<line x1="106.75" y1="225.8" x2="106.75" y2="229.0" stroke="#b48a8a" stroke-width="0.8" opacity="0.5"/>
<line x1="107.20" y1="225.9" x2="107.20" y2="228.7" stroke="#b48a8a" stroke-width="0.8" opacity="0.5"/>
<line x1="107.65" y1="226.3" x2="107.65" y2="228.9" stroke="#b48a8a" stroke-width="0.8" opacity="0.5"/>
<line x1="108.10" y1="225.8" x2="108.10" y2="229.1" stroke="#b48a8a" stroke-width="0.8" opacity="0.5"/>
<line x1="108.55" y1="226.1" x2="108.55" y2="229.3" stroke="#b48a8a" stroke-width="0.8" opacity="0.5"/>
<line x1="109.00" y1="226.0" x2="109.00" y2="229.0" stroke="#b48a8a" stroke-width="0.8" opacity="0.5"/>
<line x1="109.45" y1="225.7" x2="109.45" y2="229.5" stroke="#b48a8a" stroke-width="0.8" opacity="0.5"/>
<line x1="109.90" y1="226.2" x2="109.90" y2="229.4" stroke="#b48a8a" stroke-width="0.8" opacity="0.5"/>
<line x1="110.35" y1="226.0" x2="110.35" y2="229.7" stroke="#b48a8a" stroke-width="0.8" opacity="0.5"/>
<line x1="110.80" y1="225.8" x2="110.80" y2="229.1" stroke="#b48a8a" stroke-width="0.8" opacity="0.5"/>
<line x1="111.25" y1="225.6" x2="111.25" y2="229.0" stroke="#b48a8a" stroke-width="0.8" opacity="0.5"/>
<line x1="111.70" y1="226.1" x2="111.70" y2="229.6" stroke="#b48a8a" stroke-width="0.8" opacity="0.5"/>
<line x1="112.15" y1="226.4" x2="112.15" y2="229.4" stroke="#b48a8a" stroke-width="0.8" opacity="0.5"/>
<line x1="112.60" y1="226.5" x2="112.60" y2="229.6" stroke="#b48a8a" stroke-width="0.8" opacity="0.5"/>
<line x1="113.05" y1="225.8" x2="113.05" y2="229.5" stroke="#b48a8a" stroke-width="0.8" opacity="0.5"/>
<line x1="113.50" y1="225.7" x2="113.50" y2="229.3" stroke="#b48a8a" stroke-width="0.8" opacity="0.5"/>
<line x1="113.95" y1="225.9" x2="113.95" y2="229.6" stroke="#b48a8a" stroke-width="0.8" opacity="0.5"/>
<line x1="114.40" y1="226.1" x2="114.40" y2="229.5" stroke="#b48a8a" stroke-width="0.8" opacity="0.5"/>
<line x1="114.85" y1="225.9" x2="114.85" y2="230.0" stroke="#b48a8a" stroke-width="0.8" opacity="0.5"/>
<line x1="115.30" y1="226.2" x2="115.30" y2="229.8" stroke="#b48a8a" stroke-width="0.8" opacity="0.5"/>
<line x1="115.75" y1="226.7" x2="115.75" y2="229.9" stroke="#b48a8a" stroke-width="0.8" opacity="0.5"/>
<line x1="116.20" y1="226.1" x2="116.20" y2="230.2" stroke="#b48a8a" stroke-width="0.8" opacity="0.5"/>
<line x1="116.65" y1="226.0" x2="116.65" y2="229.6" stroke="#b48a8a" stroke-width="0.8" opacity="0.5"/>
<line x1="117.10" y1="226.5" x2="117.10" y2="230.0" stroke="#b48a8a" stroke-width="0.8" opacity="0.5"/>
<line x1="117.55" y1="226.9" x2="117.55" y2="229.8" stroke="#b48a8a" stroke-width="0.8" opacity="0.5"/>
<line x1="118.00" y1="226.8" x2="118.00" y2="229.5" stroke="#b48a8a" stroke-width="0.8" opacity="0.5"/>
<line x1="118.45" y1="226.9" x2="118.45" y2="230.2" stroke="#b48a8a" stroke-width="0.8" opacity="0.5"/>
<line x1="118.90" y1="226.9" x2="118.90" y2="229.7" stroke="#b48a8a" stroke-width="0.8" opacity="0.5"/>
<line x1="119.35" y1="226.6" x2="119.35" y2="230.4" stroke="#b48a8a" stroke-width="0.8" opacity="0.5"/>
<line x1="119.80" y1="227.0" x2="119.80" y2="230.0" stroke="#b48a8a" stroke-width="0.8" opacity="0.5"/>
<line x1="120.25" y1="226.5" x2="120.25" y2="230.5" stroke="#b48a8a" stroke-width="0.8" opacity="0.5"/>
<line x1="120.70" y1="226.3" x2="120.70" y2="230.6" stroke="#b48a8a" stroke-width="0.8" opacity="0.5"/>
<line x1="121.15" y1="226.9" x2="121.15" y2="230.1" stroke="#b48a8a" stroke-width="0.8" opacity="0.5"/>
<line x1="121.60" y1="226.8" x2="121.60" y2="230.7" stroke="#b48a8a" stroke-width="0.8" opacity="0.5"/>
<line x1="122.05" y1="226.3" x2="122.05" y2="229.9" stroke="#b48a8a" stroke-width="0.8" opacity="0.5"/>
<line x1="122.50" y1="227.1" x2="122.50" y2="230.1" stroke="#b48a8a" stroke-width="0.8" opacity="0.5"/>
<line x1="122.95" y1="227.1" x2="122.95" y2="230.4" stroke="#b48a8a" stroke-width="0.8" opacity="0.5"/>
<line x1="123.40" y1="226.7" x2="123.40" y2="230.2" stroke="#b48a8a" stroke-width="0.8" opacity="0.5"/>
<line x1="123.85" y1="227.4" x2="123.85" y2="230.4" stroke="#b48a8a" stroke-width="0.8" opacity="0.5"/>
<line x1="124.30" y1="227.0" x2="124.30" y2="230.6" stroke="#b48a8a" stroke-width="0.8" opacity="0.5"/>
<line x1="124.75" y1="226.5" x2="124.75" y2="230.8" stroke="#b48a8a" stroke-width="0.8" opacity="0.5"/>
<line x1="125.20" y1="227.0" x2="125.20" y2="230.7" stroke="#b48a8a" stroke-width="0.8" opacity="0.5"/>
<line x1="125.65" y1="226.8" x2="125.65" y2="230.2" stroke="#b48a8a" stroke-width="0.8" opacity="0.5"/>
<line x1="126.10" y1="226.6" x2="126.10" y2="231.0" stroke="#b48a8a" stroke-width="0.8" opacity="0.5"/>
<line x1="126.55" y1="226.7" x2="126.55" y2="231.1" stroke="#b48a8a" stroke-width="0.8" opacity="0.5"/>
<line x1="127.00" y1="227.2" x2="127.00" y2="230.7" stroke="#b48a8a" stroke-width="0.8" opacity="0.5"/>
<line x1="127.45" y1="227.6" x2="127.45" y2="231.0" stroke="#b48a8a" stroke-width="0.8" opacity="0.5"/>
<line x1="127.90" y1="227.6" x2="127.90" y2="230.4" stroke="#b48a8a" stroke-width="0.8" opacity="0.5"/>
<line x1="128.35" y1="227.5" x2="128.35" y2="230.6" stroke="#b48a8a" stroke-width="0.8" opacity="0.5"/>
<line x1="128.80" y1="227.5" x2="128.80" y2="230.5" stroke="#b48a8a" stroke-width="0.8" opacity="0.5"/>
<line x1="129.25" y1="227.9" x2="129.25" y2="230.7" stroke="#b48a8a" stroke-width="0.8" opacity="0.5"/>
<line x1="129.70" y1="227.8" x2="129.70" y2="231.0" stroke="#b48a8a" stroke-width="0.8" opacity="0.5"/>
<line x1="130.15" y1="228.0" x2="130.15" y2="231.7" stroke="#b48a8a" stroke-width="0.8" opacity="0.5"/>
<line x1="130.60" y1="227.4" x2="130.60" y2="230.9" stroke="#b48a8a" stroke-width="0.8" opacity="0.5"/>
<line x1="131.05" y1="227.9" x2="131.05" y2="231.2" stroke="#b48a8a" stroke-width="0.8" opacity="0.5"/>
<line x1="131.50" y1="227.8" x2="131.50" y2="231.0" stroke="#b48a8a" stroke-width="0.8" opacity="0.5"/>
<line x1="131.95" y1="227.3" x2="131.95" y2="232.1" stroke="#b48a8a" stroke-width="0.8" opacity="0.5"/>
<line x1="132.40" y1="227.8" x2="132.40" y2="231.6" stroke="#b48a8a" stroke-width="0.8" opacity="0.5"/>
<line x1="132.85" y1="228.3" x2="132.85" y2="231.2" stroke="#b48a8a" stroke-width="0.8" opacity="0.5"/>
<line x1="133.30" y1="228.1" x2="133.30" y2="231.5" stroke="#b48a8a" stroke-width="0.8" opacity="0.5"/>
<line x1="133.75" y1="227.6" x2="133.75" y2="231.4" stroke="#b48a8a" stroke-width="0.8" opacity="0.5"/>
<line x1="134.20" y1="228.5" x2="134.20" y2="232.4" stroke="#b48a8a" stroke-width="0.8" opacity="0.5"/>
<line x1="134.65" y1="228.0" x2="134.65" y2="231.5" stroke="#b48a8a" stroke-width="0.8" opacity="0.5"/>
<line x1="135.10" y1="228.1" x2="135.10" y2="231.4" stroke="#b48a8a" stroke-width="0.8" opacity="0.5"/>
<line x1="135.55" y1="228.1" x2="135.55" y2="232.6" stroke="#b48a8a" stroke-width="0.8" opacity="0.5"/>
<line x1="136.00" y1="227.8" x2="136.00" y2="232.4" stroke="#b48a8a" stroke-width="0.8" opacity="0.5"/>
<line x1="136.45" y1="228.6" x2="136.45" y2="232.1" stroke="#b48a8a" stroke-width="0.8" opacity="0.5"/>
<line x1="136.90" y1="228.7" x2="136.90" y2="232.6" stroke="#b48a8a" stroke-width="0.8" opacity="0.5"/>
<line x1="137.35" y1="228.4" x2="137.35" y2="232.7" stroke="#b48a8a" stroke-width="0.8" opacity="0.5"/>
<line x1="137.80" y1="228.7" x2="137.80" y2="232.1" stroke="#b48a8a" stroke-width="0.8" opacity="0.5"/>
<line x1="138.25" y1="228.2" x2="138.25" y2="233.1" stroke="#b48a8a" stroke-width="0.8" opacity="0.5"/>
<line x1="138.70" y1="228.2" x2="138.70" y2="232.9" stroke="#b48a8a" stroke-width="0.8" opacity="0.5"/>
<line x1="139.15" y1="228.3" x2="139.15" y2="232.9" stroke="#b48a8a" stroke-width="0.8" opacity="0.5"/>
<line x1="139.60" y1="229.0" x2="139.60" y2="232.7" stroke="#b48a8a" stroke-width="0.8" opacity="0.5"/>
<line x1="140.05" y1="228.9" x2="140.05" y2="232.2" stroke="#b48a8a" stroke-width="0.8" opacity="0.5"/>
<line x1="140.50" y1="229.4" x2="140.50" y2="232.6" stroke="#b48a8a" stroke-width="0.8" opacity="0.5"/>
<line x1="140.95" y1="229.2" x2="140.95" y2="233.1" stroke="#b48a8a" stroke-width="0.8" opacity="0.5"/>
<line x1="141.40" y1="228.4" x2="141.40" y2="232.9" stroke="#b48a8a" stroke-width="0.8" opacity="0.5"/>
<line x1="141.85" y1="228.5" x2="141.85" y2="233.7" stroke="#b48a8a" stroke-width="0.8" opacity="0.5"/>
<line x1="142.30" y1="228.6" x2="142.30" y2="233.0" stroke="#b48a8a" stroke-width="0.8" opacity="0.5"/>
<line x1="142.75" y1="229.5" x2="142.75" y2="232.9" stroke="#b48a8a" stroke-width="0.8" opacity="0.5"/>
<line x1="143.20" y1="229.7" x2="143.20" y2="233.0" stroke="#b48a8a" stroke-width="0.8" opacity="0.5"/>
<line x1="143.65" y1="229.3" x2="143.65" y2="234.0" stroke="#b48a8a" stroke-width="0.8" opacity="0.5"/>
<line x1="144.10" y1="229.1" x2="144.10" y2="233.6" stroke="#b48a8a" stroke-width="0.8" opacity="0.5"/>
<line x1="144.55" y1="229.4" x2="144.55" y2="234.1" stroke="#b48a8a" stroke-width="0.8" opacity="0.5"/>
<line x1="145.00" y1="230.2" x2="145.00" y2="234.0" stroke="#b48a8a" stroke-width="0.8" opacity="0.5"/>
<line x1="145.45" y1="229.3" x2="145.45" y2="234.3" stroke="#b48a8a" stroke-width="0.8" opacity="0.5"/>
<line x1="145.90" y1="229.6" x2="145.90" y2="234.0" stroke="#b48a8a" stroke-width="0.8" opacity="0.5"/>
<line x1="146.35" y1="230.4" x2="146.35" y2="234.5" stroke="#b48a8a" stroke-width="0.8" opacity="0.5"/>
<line x1="146.80" y1="230.3" x2="146.80" y2="234.7" stroke="#b48a8a" stroke-width="0.8" opacity="0.5"/>
<line x1="147.25" y1="229.7" x2="147.25" y2="234.3" stroke="#b48a8a" stroke-width="0.8" opacity="0.5"/>
<line x1="147.70" y1="230.4" x2="147.70" y2="235.1" stroke="#b48a8a" stroke-width="0.8" opacity="0.5"/>
<line x1="148.15" y1="230.2" x2="148.15" y2="234.2" stroke="#b48a8a" stroke-width="0.8" opacity="0.5"/>
<line x1="148.60" y1="231.0" x2="148.60" y2="234.3" stroke="#b48a8a" stroke-width="0.8" opacity="0.5"/>
<line x1="149.05" y1="230.1" x2="149.05" y2="235.2" stroke="#b48a8a" stroke-width="0.8" opacity="0.5"/>
<line x1="149.50" y1="231.2" x2="149.50" y2="235.4" stroke="#b48a8a" stroke-width="0.8" opacity="0.5"/>
<line x1="149.95" y1="230.3" x2="149.95" y2="235.3" stroke="#b48a8a" stroke-width="0.8" opacity="0.5"/>
<line x1="150.40" y1="231.1" x2="150.40" y2="235.3" stroke="#b48a8a" stroke-width="0.8" opacity="0.5"/>
<line x1="150.85" y1="231.5" x2="150.85" y2="234.7" stroke="#b48a8a" stroke-width="0.8" opacity="0.5"/>
<line x1="151.30" y1="230.6" x2="151.30" y2="235.6" stroke="#b48a8a" stroke-width="0.8" opacity="0.5"/>
<line x1="151.75" y1="231.3" x2="151.75" y2="236.1" stroke="#b48a8a" stroke-width="0.8" opacity="0.5"/>
<line x1="152.20" y1="231.5" x2="152.20" y2="236.2" stroke="#b48a8a" stroke-width="0.8" opacity="0.5"/>
<line x1="152.65" y1="231.1" x2="152.65" y2="235.5" stroke="#b48a8a" stroke-width="0.8" opacity="0.5"/>
<line x1="153.10" y1="232.0" x2="153.10" y2="235.7" stroke="#b48a8a" stroke-width="0.8" opacity="0.5"/>
<line x1="153.55" y1="232.1" x2="153.55" y2="236.2" stroke="#b48a8a" stroke-width="0.8" opacity="0.5"/>
<line x1="154.00" y1="232.2" x2="154.00" y2="236.1" stroke="#b48a8a" stroke-width="0.8" opacity="0.5"/>
<line x1="154.45" y1="232.5" x2="154.45" y2="236.9" stroke="#b48a8a" stroke-width="0.8" opacity="0.5"/>
<line x1="154.90" y1="232.3" x2="154.90" y2="236.4" stroke="#b48a8a" stroke-width="0.8" opacity="0.5"/>
<line x1="155.35" y1="232.1" x2="155.35" y2="237.1" stroke="#b48a8a" stroke-width="0.8" opacity="0.5"/>
<line x1="155.80" y1="232.5" x2="155.80" y2="237.3" stroke="#b48a8a" stroke-width="0.8" opacity="0.5"/>
<line x1="156.25" y1="232.5" x2="156.25" y2="236.9" stroke="#b48a8a" stroke-width="0.8" opacity="0.5"/>
<line x1="156.70" y1="232.6" x2="156.70" y2="236.3" stroke="#b48a8a" stroke-width="0.8" opacity="0.5"/>
<line x1="157.15" y1="232.8" x2="157.15" y2="236.7" stroke="#b48a8a" stroke-width="0.8" opacity="0.5"/>
<line x1="157.60" y1="233.4" x2="157.60" y2="237.6" stroke="#b48a8a" stroke-width="0.8" opacity="0.5"/>
<line x1="158.05" y1="233.3" x2="158.05" y2="237.3" stroke="#b48a8a" stroke-width="0.8" opacity="0.5"/>
<line x1="158.50" y1="232.8" x2="158.50" y2="237.6" stroke="#b48a8a" stroke-width="0.8" opacity="0.5"/>
<line x1="158.95" y1="233.4" x2="158.95" y2="237.6" stroke="#b48a8a" stroke-width="0.8" opacity="0.5"/>
<line x1="159.40" y1="233.2" x2="159.40" y2="238.1" stroke="#b48a8a" stroke-width="0.8" opacity="0.5"/>
<line x1="159.85" y1="233.9" x2="159.85" y2="238.0" stroke="#b48a8a" stroke-width="0.8" opacity="0.5"/>
<line x1="160.30" y1="233.9" x2="160.30" y2="237.8" stroke="#b48a8a" stroke-width="0.8" opacity="0.5"/>
<line x1="160.75" y1="233.5" x2="160.75" y2="238.3" stroke="#b48a8a" stroke-width="0.8" opacity="0.5"/>
<line x1="161.20" y1="234.0" x2="161.20" y2="238.9" stroke="#b48a8a" stroke-width="0.8" opacity="0.5"/>
<line x1="161.65" y1="233.8" x2="161.65" y2="238.7" stroke="#b48a8a" stroke-width="0.8" opacity="0.5"/>
<line x1="162.10" y1="234.4" x2="162.10" y2="239.1" stroke="#b48a8a" stroke-width="0.8" opacity="0.5"/>
<line x1="162.55" y1="234.8" x2="162.55" y2="239.6" stroke="#b48a8a" stroke-width="0.8" opacity="0.5"/>
<line x1="163.00" y1="235.1" x2="163.00" y2="239.6" stroke="#b48a8a" stroke-width="0.8" opacity="0.5"/>
<line x1="163.45" y1="235.3" x2="163.45" y2="240.4" stroke="#b48a8a" stroke-width="0.8" opacity="0.5"/>
<line x1="163.90" y1="235.2" x2="163.90" y2="240.6" stroke="#b48a8a" stroke-width="0.8" opacity="0.5"/>
<line x1="164.35" y1="235.1" x2="164.35" y2="240.0" stroke="#b48a8a" stroke-width="0.8" opacity="0.5"/>
<line x1="164.80" y1="235.9" x2="164.80" y2="241.2" stroke="#b48a8a" stroke-width="0.8" opacity="0.5"/>
<line x1="165.25" y1="235.7" x2="165.25" y2="240.3" stroke="#b48a8a" stroke-width="0.8" opacity="0.5"/>
<line x1="165.70" y1="236.9" x2="165.70" y2="241.0" stroke="#b48a8a" stroke-width="0.8" opacity="0.5"/>
<line x1="166.15" y1="237.2" x2="166.15" y2="240.9" stroke="#b48a8a" stroke-width="0.8" opacity="0.5"/>
<line x1="166.60" y1="237.5" x2="166.60" y2="241.9" stroke="#b48a8a" stroke-width="0.8" opacity="0.5"/>
<line x1="167.05" y1="236.9" x2="167.05" y2="242.5" stroke="#b48a8a" stroke-width="0.8" opacity="0.5"/>
<line x1="167.50" y1="238.0" x2="167.50" y2="242.6" stroke="#b48a8a" stroke-width="0.8" opacity="0.5"/>
<line x1="167.95" y1="237.7" x2="167.95" y2="242.1" stroke="#b48a8a" stroke-width="0.8" opacity="0.5"/>
<line x1="168.40" y1="237.7" x2="168.40" y2="243.7" stroke="#b48a8a" stroke-width="0.8" opacity="0.5"/>
<line x1="168.85" y1="238.9" x2="168.85" y2="244.0" stroke="#b48a8a" stroke-width="0.8" opacity="0.5"/>
<line x1="169.30" y1="239.0" x2="169.30" y2="243.6" stroke="#b48a8a" stroke-width="0.8" opacity="0.5"/>
<line x1="169.75" y1="238.5" x2="169.75" y2="244.5" stroke="#b48a8a" stroke-width="0.8" opacity="0.5"/>
<line x1="170.20" y1="240.0" x2="170.20" y2="244.2" stroke="#b48a8a" stroke-width="0.8" opacity="0.5"/>
<line x1="170.65" y1="239.8" x2="170.65" y2="244.4" stroke="#b48a8a" stroke-width="0.8" opacity="0.5"/>
<line x1="171.10" y1="240.6" x2="171.10" y2="244.7" stroke="#b48a8a" stroke-width="0.8" opacity="0.5"/>
<line x1="171.55" y1="240.2" x2="171.55" y2="244.6" stroke="#b48a8a" stroke-width="0.8" opacity="0.5"/>
<line x1="172.00" y1="240.7" x2="172.00" y2="245.6" stroke="#b48a8a" stroke-width="0.8" opacity="0.5"/>
<line x1="172.45" y1="241.8" x2="172.45" y2="245.8" stroke="#b48a8a" stroke-width="0.8" opacity="0.5"/>
<line x1="172.90" y1="241.4" x2="172.90" y2="246.5" stroke="#b48a8a" stroke-width="0.8" opacity="0.5"/>
<line x1="173.35" y1="242.5" x2="173.35" y2="247.7" stroke="#b48a8a" stroke-width="0.8" opacity="0.5"/>
<line x1="173.80" y1="241.9" x2="173.80" y2="248.1" stroke="#b48a8a" stroke-width="0.8" opacity="0.5"/>
<line x1="174.25" y1="243.3" x2="174.25" y2="247.4" stroke="#b48a8a" stroke-width="0.8" opacity="0.5"/>
<line x1="174.70" y1="243.8" x2="174.70" y2="248.7" stroke="#b48a8a" stroke-width="0.8" opacity="0.5"/>
<line x1="175.15" y1="243.9" x2="175.15" y2="248.1" stroke="#b48a8a" stroke-width="0.8" opacity="0.5"/>
<line x1="175.60" y1="244.1" x2="175.60" y2="249.7" stroke="#b48a8a" stroke-width="0.8" opacity="0.5"/>
<line x1="176.05" y1="244.0" x2="176.05" y2="249.1" stroke="#b48a8a" stroke-width="0.8" opacity="0.5"/>
<line x1="176.50" y1="245.3" x2="176.50" y2="250.6" stroke="#b48a8a" stroke-width="0.8" opacity="0.5"/>
<line x1="176.95" y1="245.1" x2="176.95" y2="250.7" stroke="#b48a8a" stroke-width="0.8" opacity="0.5"/>
<line x1="177.40" y1="246.2" x2="177.40" y2="250.1" stroke="#b48a8a" stroke-width="0.8" opacity="0.5"/>
<line x1="177.85" y1="245.8" x2="177.85" y2="251.1" stroke="#b48a8a" stroke-width="0.8" opacity="0.5"/>
<line x1="178.30" y1="247.1" x2="178.30" y2="252.4" stroke="#b48a8a" stroke-width="0.8" opacity="0.5"/>
<line x1="178.75" y1="246.7" x2="178.75" y2="252.6" stroke="#b48a8a" stroke-width="0.8" opacity="0.5"/>
<line x1="179.20" y1="248.0" x2="179.20" y2="253.2" stroke="#b48a8a" stroke-width="0.8" opacity="0.5"/>
<line x1="179.65" y1="248.4" x2="179.65" y2="253.7" stroke="#b48a8a" stroke-width="0.8" opacity="0.5"/>
<line x1="180.10" y1="248.3" x2="180.10" y2="253.3" stroke="#b48a8a" stroke-width="0.8" opacity="0.5"/>
<line x1="180.55" y1="248.6" x2="180.55" y2="254.7" stroke="#b48a8a" stroke-width="0.8" opacity="0.5"/>
<line x1="181.00" y1="249.5" x2="181.00" y2="253.9" stroke="#b48a8a" stroke-width="0.8" opacity="0.5"/>
<line x1="181.45" y1="249.6" x2="181.45" y2="254.5" stroke="#b48a8a" stroke-width="0.8" opacity="0.5"/>
<line x1="181.90" y1="250.6" x2="181.90" y2="254.9" stroke="#b48a8a" stroke-width="0.8" opacity="0.5"/>
<line x1="182.35" y1="251.2" x2="182.35" y2="255.4" stroke="#b48a8a" stroke-width="0.8" opacity="0.5"/>
<line x1="182.80" y1="251.2" x2="182.80" y2="256.0" stroke="#b48a8a" stroke-width="0.8" opacity="0.5"/>
<line x1="183.25" y1="251.0" x2="183.25" y2="256.5" stroke="#b48a8a" stroke-width="0.8" opacity="0.5"/>
<line x1="183.70" y1="251.9" x2="183.70" y2="256.8" stroke="#b48a8a" stroke-width="0.8" opacity="0.5"/>
<line x1="184.15" y1="252.5" x2="184.15" y2="257.0" stroke="#b48a8a" stroke-width="0.8" opacity="0.5"/>
<line x1="184.60" y1="253.1" x2="184.60" y2="257.4" stroke="#b48a8a" stroke-width="0.8" opacity="0.5"/>
<line x1="185.05" y1="252.9" x2="185.05" y2="258.9" stroke="#b48a8a" stroke-width="0.8" opacity="0.5"/>
<line x1="185.50" y1="254.2" x2="185.50" y2="259.4" stroke="#b48a8a" stroke-width="0.8" opacity="0.5"/>
<line x1="185.95" y1="253.6" x2="185.95" y2="259.4" stroke="#b48a8a" stroke-width="0.8" opacity="0.5"/>
<line x1="186.40" y1="254.3" x2="186.40" y2="260.7" stroke="#b48a8a" stroke-width="0.8" opacity="0.5"/>
<line x1="186.85" y1="255.4" x2="186.85" y2="262.1" stroke="#b48a8a" stroke-width="0.8" opacity="0.5"/>
<line x1="187.30" y1="256.1" x2="187.30" y2="262.1" stroke="#b48a8a" stroke-width="0.8" opacity="0.5"/>
<line x1="187.75" y1="256.1" x2="187.75" y2="263.8" stroke="#b48a8a" stroke-width="0.8" opacity="0.5"/>
<line x1="188.20" y1="257.2" x2="188.20" y2="264.2" stroke="#b48a8a" stroke-width="0.8" opacity="0.5"/>
<line x1="188.65" y1="257.2" x2="188.65" y2="264.5" stroke="#b48a8a" stroke-width="0.8" opacity="0.5"/>
<line x1="189.10" y1="258.2" x2="189.10" y2="264.5" stroke="#b48a8a" stroke-width="0.8" opacity="0.5"/>
<line x1="189.55" y1="259.3" x2="189.55" y2="264.6" stroke="#b48a8a" stroke-width="0.8" opacity="0.5"/>
<line x1="190.00" y1="259.9" x2="190.00" y2="266.7" stroke="#b48a8a" stroke-width="0.8" opacity="0.5"/>
<line x1="190.45" y1="260.1" x2="190.45" y2="266.0" stroke="#b48a8a" stroke-width="0.8" opacity="0.9"/>
<line x1="190.90" y1="260.9" x2="190.90" y2="268.4" stroke="#b48a8a" stroke-width="0.8" opacity="0.9"/>
<line x1="191.35" y1="260.2" x2="191.35" y2="268.7" stroke="#b48a8a" stroke-width="0.8" opacity="0.9"/>
<line x1="191.80" y1="261.9" x2="191.80" y2="268.4" stroke="#b48a8a" stroke-width="0.8" opacity="0.9"/>
<line x1="192.25" y1="262.6" x2="192.25" y2="269.8" stroke="#b48a8a" stroke-width="0.8" opacity="0.9"/>
<line x1="192.70" y1="263.6" x2="192.70" y2="270.7" stroke="#b48a8a" stroke-width="0.8" opacity="0.9"/>
<line x1="193.15" y1="264.1" x2="193.15" y2="273.0" stroke="#b48a8a" stroke-width="0.8" opacity="0.9"/>
<line x1="193.60" y1="263.5" x2="193.60" y2="272.6" stroke="#b48a8a" stroke-width="0.8" opacity="0.9"/>
<line x1="194.05" y1="265.6" x2="194.05" y2="274.7" stroke="#b48a8a" stroke-width="0.8" opacity="0.9"/>
<line x1="194.50" y1="266.1" x2="194.50" y2="273.7" stroke="#b48a8a" stroke-width="0.8" opacity="0.9"/>
<line x1="194.95" y1="267.4" x2="194.95" y2="274.7" stroke="#b48a8a" stroke-width="0.8" opacity="0.9"/>
<line x1="195.40" y1="267.3" x2="195.40" y2="275.9" stroke="#b48a8a" stroke-width="0.8" opacity="0.9"/>
<line x1="195.85" y1="268.5" x2="195.85" y2="276.7" stroke="#b48a8a" stroke-width="0.8" opacity="0.9"/>
<line x1="196.30" y1="269.6" x2="196.30" y2="276.8" stroke="#b48a8a" stroke-width="0.8" opacity="0.9"/>
<line x1="196.75" y1="270.1" x2="196.75" y2="278.1" stroke="#b48a8a" stroke-width="0.8" opacity="0.9"/>
<line x1="197.20" y1="270.9" x2="197.20" y2="277.6" stroke="#b48a8a" stroke-width="0.8" opacity="0.9"/>
<line x1="197.65" y1="271.2" x2="197.65" y2="279.2" stroke="#b48a8a" stroke-width="0.8" opacity="0.9"/>
<line x1="198.10" y1="271.4" x2="198.10" y2="281.2" stroke="#b48a8a" stroke-width="0.8" opacity="0.9"/>
<line x1="198.55" y1="271.8" x2="198.55" y2="282.6" stroke="#b48a8a" stroke-width="0.8" opacity="0.9"/>
<line x1="199.00" y1="272.7" x2="199.00" y2="284.5" stroke="#b48a8a" stroke-width="0.8" opacity="0.9"/>
<line x1="199.45" y1="274.1" x2="199.45" y2="283.4" stroke="#b48a8a" stroke-width="0.8" opacity="0.9"/>
<line x1="199.90" y1="273.7" x2="199.90" y2="283.6" stroke="#b48a8a" stroke-width="0.8" opacity="0.9"/>
<line x1="200.35" y1="275.0" x2="200.35" y2="286.6" stroke="#b48a8a" stroke-width="0.8" opacity="0.9"/>
<line x1="200.80" y1="277.2" x2="200.80" y2="288.4" stroke="#b48a8a" stroke-width="0.8" opacity="0.9"/>
<line x1="201.25" y1="276.2" x2="201.25" y2="288.5" stroke="#b48a8a" stroke-width="0.8" opacity="0.9"/>
<line x1="201.70" y1="277.3" x2="201.70" y2="290.3" stroke="#b48a8a" stroke-width="0.8" opacity="0.9"/>
<line x1="202.15" y1="279.4" x2="202.15" y2="290.0" stroke="#b48a8a" stroke-width="0.8" opacity="0.9"/>
<line x1="202.60" y1="279.4" x2="202.60" y2="292.3" stroke="#b48a8a" stroke-width="0.8" opacity="0.9"/>
<line x1="203.05" y1="279.4" x2="203.05" y2="293.2" stroke="#b48a8a" stroke-width="0.8" opacity="0.9"/>
<line x1="203.50" y1="280.6" x2="203.50" y2="294.4" stroke="#b48a8a" stroke-width="0.8" opacity="0.9"/>
<line x1="203.95" y1="281.1" x2="203.95" y2="294.3" stroke="#b48a8a" stroke-width="0.8" opacity="0.9"/>
<line x1="204.40" y1="282.9" x2="204.40" y2="292.0" stroke="#b48a8a" stroke-width="0.8" opacity="0.9"/>
<line x1="204.85" y1="283.8" x2="204.85" y2="294.4" stroke="#b48a8a" stroke-width="0.8" opacity="0.9"/>
<line x1="205.30" y1="284.6" x2="205.30" y2="297.6" stroke="#b48a8a" stroke-width="0.8" opacity="0.9"/>
<line x1="205.75" y1="284.3" x2="205.75" y2="297.5" stroke="#b48a8a" stroke-width="0.8" opacity="0.9"/>
<line x1="206.20" y1="284.8" x2="206.20" y2="298.6" stroke="#b48a8a" stroke-width="0.8" opacity="0.9"/>
<line x1="206.65" y1="285.8" x2="206.65" y2="296.0" stroke="#b48a8a" stroke-width="0.8" opacity="0.9"/>
<line x1="207.10" y1="285.8" x2="207.10" y2="300.7" stroke="#b48a8a" stroke-width="0.8" opacity="0.9"/>
<line x1="207.55" y1="287.2" x2="207.55" y2="300.4" stroke="#b48a8a" stroke-width="0.8" opacity="0.9"/>
<line x1="208.00" y1="287.6" x2="208.00" y2="298.8" stroke="#b48a8a" stroke-width="0.8" opacity="0.9"/>
<line x1="208.45" y1="288.1" x2="208.45" y2="300.5" stroke="#b48a8a" stroke-width="0.8" opacity="0.9"/>
<line x1="208.90" y1="290.5" x2="208.90" y2="301.4" stroke="#b48a8a" stroke-width="0.8" opacity="0.9"/>
<line x1="209.35" y1="289.6" x2="209.35" y2="301.9" stroke="#b48a8a" stroke-width="0.8" opacity="0.9"/>
<line x1="209.80" y1="290.3" x2="209.80" y2="306.8" stroke="#b48a8a" stroke-width="0.8" opacity="0.9"/>
<line x1="210.25" y1="291.6" x2="210.25" y2="304.4" stroke="#b48a8a" stroke-width="0.8" opacity="0.9"/>
<line x1="210.70" y1="292.4" x2="210.70" y2="306.8" stroke="#b48a8a" stroke-width="0.8" opacity="0.9"/>
<line x1="211.15" y1="292.3" x2="211.15" y2="307.2" stroke="#b48a8a" stroke-width="0.8" opacity="0.9"/>
<line x1="211.60" y1="293.4" x2="211.60" y2="305.1" stroke="#b48a8a" stroke-width="0.8" opacity="0.9"/>
<line x1="212.05" y1="295.4" x2="212.05" y2="306.9" stroke="#b48a8a" stroke-width="0.8" opacity="0.9"/>
<line x1="212.50" y1="294.6" x2="212.50" y2="307.9" stroke="#b48a8a" stroke-width="0.8" opacity="0.9"/>
<line x1="212.95" y1="295.8" x2="212.95" y2="307.1" stroke="#b48a8a" stroke-width="0.8" opacity="0.9"/>
<line x1="213.40" y1="297.7" x2="213.40" y2="309.2" stroke="#b48a8a" stroke-width="0.8" opacity="0.9"/>
<line x1="213.85" y1="296.7" x2="213.85" y2="312.2" stroke="#b48a8a" stroke-width="0.8" opacity="0.9"/>
<line x1="214.30" y1="297.3" x2="214.30" y2="310.7" stroke="#b48a8a" stroke-width="0.8" opacity="0.9"/>
<line x1="214.75" y1="298.3" x2="214.75" y2="312.3" stroke="#b48a8a" stroke-width="0.8" opacity="0.9"/>
<line x1="215.20" y1="299.0" x2="215.20" y2="311.0" stroke="#b48a8a" stroke-width="0.8" opacity="0.9"/>
<line x1="215.65" y1="298.3" x2="215.65" y2="312.1" stroke="#b48a8a" stroke-width="0.8" opacity="0.9"/>
<line x1="216.10" y1="298.6" x2="216.10" y2="316.9" stroke="#b48a8a" stroke-width="0.8" opacity="0.9"/>
<line x1="216.55" y1="301.9" x2="216.55" y2="314.9" stroke="#b48a8a" stroke-width="0.8" opacity="0.9"/>
<line x1="217.00" y1="300.0" x2="217.00" y2="318.5" stroke="#b48a8a" stroke-width="0.8" opacity="0.9"/>
<line x1="217.45" y1="301.7" x2="217.45" y2="315.2" stroke="#b48a8a" stroke-width="0.8" opacity="0.9"/>
<line x1="217.90" y1="303.0" x2="217.90" y2="319.7" stroke="#b48a8a" stroke-width="0.8" opacity="0.9"/>
<line x1="218.35" y1="303.5" x2="218.35" y2="318.3" stroke="#b48a8a" stroke-width="0.8" opacity="0.9"/>
<line x1="218.80" y1="304.3" x2="218.80" y2="318.7" stroke="#b48a8a" stroke-width="0.8" opacity="0.9"/>
<line x1="219.25" y1="302.1" x2="219.25" y2="317.1" stroke="#b48a8a" stroke-width="0.8" opacity="0.9"/>
<line x1="219.70" y1="303.0" x2="219.70" y2="320.1" stroke="#b48a8a" stroke-width="0.8" opacity="0.9"/>
<line x1="220.15" y1="303.2" x2="220.15" y2="322.0" stroke="#b48a8a" stroke-width="0.8" opacity="0.9"/>
<line x1="220.60" y1="306.0" x2="220.60" y2="324.0" stroke="#b48a8a" stroke-width="0.8" opacity="0.9"/>
<line x1="221.05" y1="305.5" x2="221.05" y2="319.3" stroke="#b48a8a" stroke-width="0.8" opacity="0.9"/>
<line x1="221.50" y1="307.8" x2="221.50" y2="323.0" stroke="#b48a8a" stroke-width="0.8" opacity="0.9"/>
<line x1="221.95" y1="306.5" x2="221.95" y2="322.6" stroke="#b48a8a" stroke-width="0.8" opacity="0.9"/>
<line x1="222.40" y1="308.2" x2="222.40" y2="323.9" stroke="#b48a8a" stroke-width="0.8" opacity="0.9"/>
<line x1="222.85" y1="308.0" x2="222.85" y2="329.0" stroke="#b48a8a" stroke-width="0.8" opacity="0.9"/>
<line x1="223.30" y1="309.7" x2="223.30" y2="330.0" stroke="#b48a8a" stroke-width="0.8" opacity="0.9"/>
<line x1="223.75" y1="306.6" x2="223.75" y2="326.4" stroke="#b48a8a" stroke-width="0.8" opacity="0.9"/>
<line x1="224.20" y1="306.6" x2="224.20" y2="333.0" stroke="#b48a8a" stroke-width="0.8" opacity="0.9"/>
<line x1="224.65" y1="306.9" x2="224.65" y2="330.4" stroke="#b48a8a" stroke-width="0.8" opacity="0.9"/>
<line x1="225.10" y1="309.4" x2="225.10" y2="332.9" stroke="#b48a8a" stroke-width="0.8" opacity="0.9"/>
<line x1="225.55" y1="306.7" x2="225.55" y2="337.5" stroke="#b48a8a" stroke-width="0.8" opacity="0.9"/>
<line x1="226.00" y1="309.9" x2="226.00" y2="338.1" stroke="#b48a8a" stroke-width="0.8" opacity="0.9"/>
<line x1="226.45" y1="310.5" x2="226.45" y2="335.2" stroke="#b48a8a" stroke-width="0.8" opacity="0.9"/>
<line x1="226.90" y1="311.5" x2="226.90" y2="343.0" stroke="#b48a8a" stroke-width="0.8" opacity="0.9"/>
<line x1="227.35" y1="310.8" x2="227.35" y2="343.0" stroke="#b48a8a" stroke-width="0.8" opacity="0.9"/>
<line x1="227.80" y1="311.2" x2="227.80" y2="343.0" stroke="#b48a8a" stroke-width="0.8" opacity="0.9"/>
<line x1="228.25" y1="310.0" x2="228.25" y2="343.0" stroke="#b48a8a" stroke-width="0.8" opacity="0.9"/>
<line x1="228.70" y1="310.9" x2="228.70" y2="343.0" stroke="#b48a8a" stroke-width="0.8" opacity="0.9"/>
<line x1="229.15" y1="308.2" x2="229.15" y2="343.0" stroke="#b48a8a" stroke-width="0.8" opacity="0.9"/>
<line x1="229.60" y1="309.6" x2="229.60" y2="343.0" stroke="#b48a8a" stroke-width="0.8" opacity="0.9"/>
<line x1="230.05" y1="307.0" x2="230.05" y2="343.0" stroke="#b48a8a" stroke-width="0.8" opacity="0.9"/>
<line x1="230.50" y1="307.6" x2="230.50" y2="343.0" stroke="#b48a8a" stroke-width="0.8" opacity="0.9"/>
<line x1="230.95" y1="306.8" x2="230.95" y2="343.0" stroke="#b48a8a" stroke-width="0.8" opacity="0.9"/>
<line x1="231.40" y1="305.8" x2="231.40" y2="343.0" stroke="#b48a8a" stroke-width="0.8" opacity="0.9"/>
<line x1="231.85" y1="308.9" x2="231.85" y2="343.0" stroke="#b48a8a" stroke-width="0.8" opacity="0.9"/>
<line x1="232.30" y1="302.4" x2="232.30" y2="343.0" stroke="#b48a8a" stroke-width="0.8" opacity="0.9"/>
<line x1="232.75" y1="304.5" x2="232.75" y2="343.0" stroke="#b48a8a" stroke-width="0.8" opacity="0.9"/>
<line x1="233.20" y1="304.5" x2="233.20" y2="343.0" stroke="#b48a8a" stroke-width="0.8" opacity="0.9"/>
<line x1="233.65" y1="294.2" x2="233.65" y2="343.0" stroke="#b48a8a" stroke-width="0.8" opacity="0.9"/>
<line x1="234.10" y1="296.4" x2="234.10" y2="343.0" stroke="#b48a8a" stroke-width="0.8" opacity="0.9"/>
<line x1="234.55" y1="296.9" x2="234.55" y2="343.0" stroke="#b48a8a" stroke-width="0.8" opacity="0.9"/>
<line x1="235.00" y1="301.8" x2="235.00" y2="343.0" stroke="#b48a8a" stroke-width="0.8" opacity="0.9"/>
<line x1="235.45" y1="300.6" x2="235.45" y2="343.0" stroke="#b48a8a" stroke-width="0.8" opacity="0.9"/>
<line x1="235.90" y1="295.4" x2="235.90" y2="343.0" stroke="#b48a8a" stroke-width="0.8" opacity="0.9"/>
<line x1="236.35" y1="287.9" x2="236.35" y2="343.0" stroke="#b48a8a" stroke-width="0.8" opacity="0.9"/>
<polyline points="48.9,229.0 70.0,229.1 100.0,229.0 114.0,229.6 128.0,230.8 142.0,232.8 150.0,234.7 160.0,235.9 166.2,238.2 172.4,241.8 178.6,247.7 184.9,254.1 191.1,262.0 197.5,272.5 202.3,281.3 207.7,290.7 213.1,300.7 218.6,309.3 224.0,317.4 229.5,322.8 236.4,325.8" fill="none" stroke="#008a00" stroke-width="1.7" stroke-linejoin="round" stroke-linecap="round" />
<polyline points="48.9,226.7 70.0,226.8 100.0,226.7 114.0,227.3 128.0,228.5 142.0,230.5 150.0,232.4 160.0,235.1 166.2,238.3 172.4,242.8 178.6,248.6 184.9,255.0 191.1,262.9 197.5,273.4 202.3,282.1 207.7,291.1 213.1,300.1 218.6,307.7 224.0,314.8 229.5,319.4 236.4,321.3" fill="none" stroke="#ff0000" stroke-width="1.7" stroke-linejoin="round" stroke-linecap="round" />
<polyline points="48.9,227.8 70.0,227.9 100.0,227.8 114.0,228.4 128.0,229.6 142.0,231.6 150.0,233.5 160.0,236.5 166.2,240.0 172.4,244.7 178.6,250.5 184.9,257.0 191.1,264.8 197.5,275.4 202.3,284.1 207.7,293.3 213.1,302.9 218.6,311.1 224.0,319.5 229.5,326.6 236.4,331.6" fill="none" stroke="#0000ff" stroke-width="1.7" stroke-linejoin="round" stroke-linecap="round" />
<polyline points="48.9,225.1 70.0,225.2 100.0,225.1 114.0,225.7 128.0,226.9 142.0,228.9 150.0,230.8 160.0,234.5 166.2,238.3 172.4,243.4 178.6,249.3 184.9,255.7 191.1,263.6 197.5,274.1 202.3,282.9 207.7,291.9 213.1,301.1 218.6,308.9 224.0,316.2 229.5,321.0 236.4,323.1" fill="none" stroke="#00ffff" stroke-width="1.7" stroke-linejoin="round" stroke-linecap="round" />
<line x1="50.1" y1="217.2" x2="50.1" y2="227.2" stroke="#b48a8a" stroke-width="0.6" opacity="0.7"/>
<line x1="51.6" y1="221.3" x2="51.6" y2="233.3" stroke="#b48a8a" stroke-width="0.6" opacity="0.7"/>
<line x1="54.2" y1="227" x2="54.2" y2="239" stroke="#b48a8a" stroke-width="0.6" opacity="0.7"/>
<line x1="57.2" y1="226.9" x2="57.2" y2="236.9" stroke="#b48a8a" stroke-width="0.6" opacity="0.7"/>
<line x1="59.3" y1="224.9" x2="59.3" y2="234.9" stroke="#b48a8a" stroke-width="0.6" opacity="0.7"/>
<line x1="61.3" y1="216.7" x2="61.3" y2="222.7" stroke="#b48a8a" stroke-width="0.6" opacity="0.7"/>
<line x1="62.9" y1="222.3" x2="62.9" y2="228.3" stroke="#b48a8a" stroke-width="0.6" opacity="0.7"/>
<line x1="64.9" y1="227.4" x2="64.9" y2="233.4" stroke="#b48a8a" stroke-width="0.6" opacity="0.7"/>
<line x1="67.5" y1="226.4" x2="67.5" y2="232.4" stroke="#b48a8a" stroke-width="0.6" opacity="0.7"/>
<line x1="70.5" y1="223.3" x2="70.5" y2="229.3" stroke="#b48a8a" stroke-width="0.6" opacity="0.7"/>
<line x1="73.1" y1="226.9" x2="73.1" y2="230.9" stroke="#b48a8a" stroke-width="0.6" opacity="0.7"/>
<line x1="75.6" y1="225.3" x2="75.6" y2="229.3" stroke="#b48a8a" stroke-width="0.6" opacity="0.7"/>
<line x1="79.7" y1="222.3" x2="79.7" y2="226.3" stroke="#b48a8a" stroke-width="0.6" opacity="0.7"/>
<line x1="83.3" y1="220.7" x2="83.3" y2="224.7" stroke="#b48a8a" stroke-width="0.6" opacity="0.7"/>
<line x1="86.9" y1="222.8" x2="86.9" y2="226.8" stroke="#b48a8a" stroke-width="0.6" opacity="0.7"/>
<line x1="92" y1="223.3" x2="92" y2="227.3" stroke="#b48a8a" stroke-width="0.6" opacity="0.7"/>
<line x1="97.1" y1="223.8" x2="97.1" y2="227.8" stroke="#b48a8a" stroke-width="0.6" opacity="0.7"/>
<line x1="104.2" y1="222.8" x2="104.2" y2="226.8" stroke="#b48a8a" stroke-width="0.6" opacity="0.7"/>
<line x1="109.4" y1="223.8" x2="109.4" y2="227.8" stroke="#b48a8a" stroke-width="0.6" opacity="0.7"/>
<line x1="115" y1="224.5" x2="115" y2="228.5" stroke="#b48a8a" stroke-width="0.6" opacity="0.7"/>
<polyline points="50.1,222.2 51.6,227.3 54.2,233.0 57.2,231.9 59.3,229.9 61.3,219.7 62.9,225.3 64.9,230.4 67.5,229.4 70.5,226.3 73.1,228.9 75.6,227.3 79.7,224.3 83.3,222.7 86.9,224.8 92.0,225.3 97.1,225.8 104.2,224.8 109.4,225.8 115.0,226.5" fill="none" stroke="#b48a8a" stroke-width="1.0" stroke-linejoin="round" stroke-linecap="round" />
<rect x="48.9" y="217.6" width="63.50000000000001" height="17.400000000000006" fill="none" stroke="#a8a8a8" stroke-width="1.2"/>
<line x1="48.9" y1="235" x2="51.6" y2="251.4" stroke="#a8a8a8" stroke-width="1"/>
<line x1="112.4" y1="235" x2="174.2" y2="251.4" stroke="#a8a8a8" stroke-width="1"/>
<rect x="51.6" y="251.4" width="122.6" height="86.6" fill="#fff" stroke="#c0c0c0" stroke-width="1"/>
<g clip-path="url(#cd)">
<line x1="68.5" y1="251.4" x2="68.5" y2="253.5" stroke="#c0c0c0" stroke-width="0.8"/>
<line x1="68.5" y1="337.5" x2="68.5" y2="335.4" stroke="#c0c0c0" stroke-width="0.8"/>
<line x1="81.8" y1="251.4" x2="81.8" y2="253.5" stroke="#c0c0c0" stroke-width="0.8"/>
<line x1="81.8" y1="337.5" x2="81.8" y2="335.4" stroke="#c0c0c0" stroke-width="0.8"/>
<line x1="93.5" y1="251.4" x2="93.5" y2="253.5" stroke="#c0c0c0" stroke-width="0.8"/>
<line x1="93.5" y1="337.5" x2="93.5" y2="335.4" stroke="#c0c0c0" stroke-width="0.8"/>
<line x1="104.5" y1="251.4" x2="104.5" y2="253.5" stroke="#c0c0c0" stroke-width="0.8"/>
<line x1="104.5" y1="337.5" x2="104.5" y2="335.4" stroke="#c0c0c0" stroke-width="0.8"/>
<line x1="113.5" y1="251.4" x2="113.5" y2="253.5" stroke="#c0c0c0" stroke-width="0.8"/>
<line x1="113.5" y1="337.5" x2="113.5" y2="335.4" stroke="#c0c0c0" stroke-width="0.8"/>
<line x1="121.6" y1="251.4" x2="121.6" y2="253.5" stroke="#c0c0c0" stroke-width="0.8"/>
<line x1="121.6" y1="337.5" x2="121.6" y2="335.4" stroke="#c0c0c0" stroke-width="0.8"/>
<line x1="155" y1="251.4" x2="155" y2="253.5" stroke="#c0c0c0" stroke-width="0.8"/>
<line x1="155" y1="337.5" x2="155" y2="335.4" stroke="#c0c0c0" stroke-width="0.8"/>
<line x1="170" y1="251.4" x2="170" y2="253.5" stroke="#c0c0c0" stroke-width="0.8"/>
<line x1="170" y1="337.5" x2="170" y2="335.4" stroke="#c0c0c0" stroke-width="0.8"/>
<line x1="52.2" y1="262" x2="54.3" y2="262" stroke="#c0c0c0" stroke-width="0.8"/>
<line x1="52.2" y1="268" x2="54.3" y2="268" stroke="#c0c0c0" stroke-width="0.8"/>
<line x1="52.2" y1="275" x2="54.3" y2="275" stroke="#c0c0c0" stroke-width="0.8"/>
<line x1="52.2" y1="283" x2="54.3" y2="283" stroke="#c0c0c0" stroke-width="0.8"/>
<line x1="52.2" y1="292" x2="54.3" y2="292" stroke="#c0c0c0" stroke-width="0.8"/>
<line x1="52.2" y1="304" x2="54.3" y2="304" stroke="#c0c0c0" stroke-width="0.8"/>
<line x1="52.2" y1="318" x2="54.3" y2="318" stroke="#c0c0c0" stroke-width="0.8"/>
<line x1="54.7" y1="256.1" x2="54.7" y2="288.1" stroke="#f0dada" stroke-width="0.7"/>
<line x1="53.5" y1="256.1" x2="55.900000000000006" y2="256.1" stroke="#f0dada" stroke-width="0.7"/>
<line x1="53.5" y1="288.1" x2="55.900000000000006" y2="288.1" stroke="#f0dada" stroke-width="0.7"/>
<line x1="62.8" y1="306.9" x2="62.8" y2="337.0" stroke="#f0dada" stroke-width="0.7"/>
<line x1="61.599999999999994" y1="306.9" x2="64.0" y2="306.9" stroke="#f0dada" stroke-width="0.7"/>
<line x1="61.599999999999994" y1="337.0" x2="64.0" y2="337.0" stroke="#f0dada" stroke-width="0.7"/>
<line x1="70.5" y1="301.5" x2="70.5" y2="337.0" stroke="#f0dada" stroke-width="0.7"/>
<line x1="69.3" y1="301.5" x2="71.7" y2="301.5" stroke="#f0dada" stroke-width="0.7"/>
<line x1="69.3" y1="337.0" x2="71.7" y2="337.0" stroke="#f0dada" stroke-width="0.7"/>
<line x1="77.5" y1="230.2" x2="77.5" y2="278.2" stroke="#f0dada" stroke-width="0.7"/>
<line x1="76.3" y1="230.2" x2="78.7" y2="230.2" stroke="#f0dada" stroke-width="0.7"/>
<line x1="76.3" y1="278.2" x2="78.7" y2="278.2" stroke="#f0dada" stroke-width="0.7"/>
<line x1="83.1" y1="291.1" x2="83.1" y2="331.1" stroke="#f0dada" stroke-width="0.7"/>
<line x1="81.89999999999999" y1="291.1" x2="84.3" y2="291.1" stroke="#f0dada" stroke-width="0.7"/>
<line x1="81.89999999999999" y1="331.1" x2="84.3" y2="331.1" stroke="#f0dada" stroke-width="0.7"/>
<line x1="88.5" y1="293.8" x2="88.5" y2="329.8" stroke="#f0dada" stroke-width="0.7"/>
<line x1="87.3" y1="293.8" x2="89.7" y2="293.8" stroke="#f0dada" stroke-width="0.7"/>
<line x1="87.3" y1="329.8" x2="89.7" y2="329.8" stroke="#f0dada" stroke-width="0.7"/>
<line x1="94.3" y1="277.5" x2="94.3" y2="305.5" stroke="#f0dada" stroke-width="0.7"/>
<line x1="93.1" y1="277.5" x2="95.5" y2="277.5" stroke="#f0dada" stroke-width="0.7"/>
<line x1="93.1" y1="305.5" x2="95.5" y2="305.5" stroke="#f0dada" stroke-width="0.7"/>
<line x1="99" y1="298.6" x2="99" y2="322.6" stroke="#f0dada" stroke-width="0.7"/>
<line x1="97.8" y1="298.6" x2="100.2" y2="298.6" stroke="#f0dada" stroke-width="0.7"/>
<line x1="97.8" y1="322.6" x2="100.2" y2="322.6" stroke="#f0dada" stroke-width="0.7"/>
<line x1="104.8" y1="295.5" x2="104.8" y2="315.5" stroke="#f0dada" stroke-width="0.7"/>
<line x1="103.6" y1="295.5" x2="106.0" y2="295.5" stroke="#f0dada" stroke-width="0.7"/>
<line x1="103.6" y1="315.5" x2="106.0" y2="315.5" stroke="#f0dada" stroke-width="0.7"/>
<line x1="109.4" y1="285.1" x2="109.4" y2="301.1" stroke="#f0dada" stroke-width="0.7"/>
<line x1="108.2" y1="285.1" x2="110.60000000000001" y2="285.1" stroke="#f0dada" stroke-width="0.7"/>
<line x1="108.2" y1="301.1" x2="110.60000000000001" y2="301.1" stroke="#f0dada" stroke-width="0.7"/>
<line x1="114.7" y1="277.7" x2="114.7" y2="287.7" stroke="#f0dada" stroke-width="0.7"/>
<line x1="113.5" y1="277.7" x2="115.9" y2="277.7" stroke="#f0dada" stroke-width="0.7"/>
<line x1="113.5" y1="287.7" x2="115.9" y2="287.7" stroke="#f0dada" stroke-width="0.7"/>
<line x1="119.8" y1="269.5" x2="119.8" y2="279.5" stroke="#f0dada" stroke-width="0.7"/>
<line x1="118.6" y1="269.5" x2="121.0" y2="269.5" stroke="#f0dada" stroke-width="0.7"/>
<line x1="118.6" y1="279.5" x2="121.0" y2="279.5" stroke="#f0dada" stroke-width="0.7"/>
<line x1="124" y1="279.8" x2="124" y2="287.8" stroke="#f0dada" stroke-width="0.7"/>
<line x1="122.8" y1="279.8" x2="125.2" y2="279.8" stroke="#f0dada" stroke-width="0.7"/>
<line x1="122.8" y1="287.8" x2="125.2" y2="287.8" stroke="#f0dada" stroke-width="0.7"/>
<line x1="128.7" y1="284.5" x2="128.7" y2="292.5" stroke="#f0dada" stroke-width="0.7"/>
<line x1="127.49999999999999" y1="284.5" x2="129.89999999999998" y2="284.5" stroke="#f0dada" stroke-width="0.7"/>
<line x1="127.49999999999999" y1="292.5" x2="129.89999999999998" y2="292.5" stroke="#f0dada" stroke-width="0.7"/>
<line x1="133.3" y1="285.7" x2="133.3" y2="293.7" stroke="#f0dada" stroke-width="0.7"/>
<line x1="132.10000000000002" y1="285.7" x2="134.5" y2="285.7" stroke="#f0dada" stroke-width="0.7"/>
<line x1="132.10000000000002" y1="293.7" x2="134.5" y2="293.7" stroke="#f0dada" stroke-width="0.7"/>
<line x1="136.8" y1="295.0" x2="136.8" y2="303.0" stroke="#f0dada" stroke-width="0.7"/>
<line x1="135.60000000000002" y1="295.0" x2="138.0" y2="295.0" stroke="#f0dada" stroke-width="0.7"/>
<line x1="135.60000000000002" y1="303.0" x2="138.0" y2="303.0" stroke="#f0dada" stroke-width="0.7"/>
<line x1="140.3" y1="290.3" x2="140.3" y2="298.3" stroke="#f0dada" stroke-width="0.7"/>
<line x1="139.10000000000002" y1="290.3" x2="141.5" y2="290.3" stroke="#f0dada" stroke-width="0.7"/>
<line x1="139.10000000000002" y1="298.3" x2="141.5" y2="298.3" stroke="#f0dada" stroke-width="0.7"/>
<line x1="145" y1="285.0" x2="145" y2="292.0" stroke="#f0dada" stroke-width="0.7"/>
<line x1="143.8" y1="285.0" x2="146.2" y2="285.0" stroke="#f0dada" stroke-width="0.7"/>
<line x1="143.8" y1="292.0" x2="146.2" y2="292.0" stroke="#f0dada" stroke-width="0.7"/>
<line x1="149.7" y1="296.7" x2="149.7" y2="303.7" stroke="#f0dada" stroke-width="0.7"/>
<line x1="148.5" y1="296.7" x2="150.89999999999998" y2="296.7" stroke="#f0dada" stroke-width="0.7"/>
<line x1="148.5" y1="303.7" x2="150.89999999999998" y2="303.7" stroke="#f0dada" stroke-width="0.7"/>
<line x1="153.2" y1="289.7" x2="153.2" y2="296.7" stroke="#f0dada" stroke-width="0.7"/>
<line x1="152.0" y1="289.7" x2="154.39999999999998" y2="289.7" stroke="#f0dada" stroke-width="0.7"/>
<line x1="152.0" y1="296.7" x2="154.39999999999998" y2="296.7" stroke="#f0dada" stroke-width="0.7"/>
<line x1="157.8" y1="289.0" x2="157.8" y2="295.0" stroke="#f0dada" stroke-width="0.7"/>
<line x1="156.60000000000002" y1="289.0" x2="159.0" y2="289.0" stroke="#f0dada" stroke-width="0.7"/>
<line x1="156.60000000000002" y1="295.0" x2="159.0" y2="295.0" stroke="#f0dada" stroke-width="0.7"/>
<line x1="161.3" y1="280.8" x2="161.3" y2="286.8" stroke="#f0dada" stroke-width="0.7"/>
<line x1="160.10000000000002" y1="280.8" x2="162.5" y2="280.8" stroke="#f0dada" stroke-width="0.7"/>
<line x1="160.10000000000002" y1="286.8" x2="162.5" y2="286.8" stroke="#f0dada" stroke-width="0.7"/>
<line x1="166" y1="290.2" x2="166" y2="296.2" stroke="#f0dada" stroke-width="0.7"/>
<line x1="164.8" y1="290.2" x2="167.2" y2="290.2" stroke="#f0dada" stroke-width="0.7"/>
<line x1="164.8" y1="296.2" x2="167.2" y2="296.2" stroke="#f0dada" stroke-width="0.7"/>
<line x1="169.5" y1="296.0" x2="169.5" y2="302.0" stroke="#f0dada" stroke-width="0.7"/>
<line x1="168.3" y1="296.0" x2="170.7" y2="296.0" stroke="#f0dada" stroke-width="0.7"/>
<line x1="168.3" y1="302.0" x2="170.7" y2="302.0" stroke="#f0dada" stroke-width="0.7"/>
<line x1="173" y1="285.5" x2="173" y2="291.5" stroke="#f0dada" stroke-width="0.7"/>
<line x1="171.8" y1="285.5" x2="174.2" y2="285.5" stroke="#f0dada" stroke-width="0.7"/>
<line x1="171.8" y1="291.5" x2="174.2" y2="291.5" stroke="#f0dada" stroke-width="0.7"/>
<line x1="174.2" y1="287.8" x2="174.2" y2="293.8" stroke="#f0dada" stroke-width="0.7"/>
<line x1="173.0" y1="287.8" x2="175.39999999999998" y2="287.8" stroke="#f0dada" stroke-width="0.7"/>
<line x1="173.0" y1="293.8" x2="175.39999999999998" y2="293.8" stroke="#f0dada" stroke-width="0.7"/>
<polyline points="54.8,305.7 64.7,305.8 74.7,305.9 84.6,306.1 94.5,306.3 104.5,306.5 114.4,306.7 124.3,307.0 134.3,307.3 144.2,307.6 154.1,308.0 164.1,308.4 174.0,308.8" fill="none" stroke="#008a00" stroke-width="1.6" stroke-linejoin="round" stroke-linecap="round" />
<polyline points="54.8,301.6 64.7,301.7 74.7,301.9 84.6,302.1 94.5,302.4 104.5,302.6 114.4,303.0 124.3,303.3 134.3,303.7 144.2,304.1 154.1,304.6 164.1,305.1 174.0,305.6" fill="none" stroke="#0000ff" stroke-width="1.6" stroke-linejoin="round" stroke-linecap="round" />
<polyline points="54.8,295.3 64.7,295.4 74.7,295.6 84.6,295.8 94.5,296.1 104.5,296.4 114.4,296.7 124.3,297.1 134.3,297.5 144.2,297.9 154.1,298.4 164.1,298.9 174.0,299.5" fill="none" stroke="#ff0000" stroke-width="1.6" stroke-linejoin="round" stroke-linecap="round" />
<polyline points="54.7,272.1 62.8,326.9 70.5,319.5 77.5,254.2 83.1,311.1 88.5,311.8 94.3,291.5 99.0,310.6 104.8,305.5 109.4,293.1 114.7,282.7 119.8,274.5 124.0,283.8 128.7,288.5 133.3,289.7 136.8,299.0 140.3,294.3 145.0,288.5 149.7,300.2 153.2,293.2 157.8,292.0 161.3,283.8 166.0,293.2 169.5,299.0 173.0,288.5 174.2,290.8" fill="none" stroke="#b48a8a" stroke-width="1.3" stroke-linejoin="round" stroke-linecap="round" />
<polyline points="54.8,285.5 64.7,285.7 74.7,285.9 84.6,286.1 94.5,286.4 104.5,286.7 114.4,287.1 124.3,287.5 134.3,287.9 144.2,288.4 154.1,288.9 164.1,289.5 174.0,290.1" fill="none" stroke="#00ffff" stroke-width="1.6" stroke-linejoin="round" stroke-linecap="round" />
</g>
<rect x="271.8" y="211.6" width="186.0" height="131.20000000000002" fill="none" stroke="#c4c4c4" stroke-width="1.1"/>
<line x1="276.7" y1="211.6" x2="276.7" y2="214.1" stroke="#a8a8a8" stroke-width="1"/>
<line x1="276.7" y1="342.8" x2="276.7" y2="340.3" stroke="#a8a8a8" stroke-width="1"/>
<line x1="307.1" y1="211.6" x2="307.1" y2="214.1" stroke="#a8a8a8" stroke-width="1"/>
<line x1="307.1" y1="342.8" x2="307.1" y2="340.3" stroke="#a8a8a8" stroke-width="1"/>
<line x1="328.8" y1="211.6" x2="328.8" y2="214.1" stroke="#a8a8a8" stroke-width="1"/>
<line x1="328.8" y1="342.8" x2="328.8" y2="340.3" stroke="#a8a8a8" stroke-width="1"/>
<line x1="345.5" y1="211.6" x2="345.5" y2="214.1" stroke="#a8a8a8" stroke-width="1"/>
<line x1="345.5" y1="342.8" x2="345.5" y2="340.3" stroke="#a8a8a8" stroke-width="1"/>
<line x1="359.2" y1="211.6" x2="359.2" y2="214.1" stroke="#a8a8a8" stroke-width="1"/>
<line x1="359.2" y1="342.8" x2="359.2" y2="340.3" stroke="#a8a8a8" stroke-width="1"/>
<line x1="370.8" y1="211.6" x2="370.8" y2="214.1" stroke="#a8a8a8" stroke-width="1"/>
<line x1="370.8" y1="342.8" x2="370.8" y2="340.3" stroke="#a8a8a8" stroke-width="1"/>
<line x1="380.8" y1="211.6" x2="380.8" y2="214.1" stroke="#a8a8a8" stroke-width="1"/>
<line x1="380.8" y1="342.8" x2="380.8" y2="340.3" stroke="#a8a8a8" stroke-width="1"/>
<line x1="389.7" y1="211.6" x2="389.7" y2="214.1" stroke="#a8a8a8" stroke-width="1"/>
<line x1="389.7" y1="342.8" x2="389.7" y2="340.3" stroke="#a8a8a8" stroke-width="1"/>
<line x1="397.6" y1="211.6" x2="397.6" y2="216.6" stroke="#a8a8a8" stroke-width="1"/>
<line x1="397.6" y1="342.8" x2="397.6" y2="337.8" stroke="#a8a8a8" stroke-width="1"/>
<line x1="449.7" y1="211.6" x2="449.7" y2="214.1" stroke="#a8a8a8" stroke-width="1"/>
<line x1="449.7" y1="342.8" x2="449.7" y2="340.3" stroke="#a8a8a8" stroke-width="1"/>
<line x1="271.8" y1="342.8" x2="276.8" y2="342.8" stroke="#a8a8a8" stroke-width="1"/>
<line x1="457.8" y1="342.8" x2="452.8" y2="342.8" stroke="#a8a8a8" stroke-width="1"/>
<line x1="271.8" y1="316.0" x2="274.3" y2="316.0" stroke="#a8a8a8" stroke-width="1"/>
<line x1="457.8" y1="316.0" x2="455.3" y2="316.0" stroke="#a8a8a8" stroke-width="1"/>
<line x1="271.8" y1="300.3" x2="274.3" y2="300.3" stroke="#a8a8a8" stroke-width="1"/>
<line x1="457.8" y1="300.3" x2="455.3" y2="300.3" stroke="#a8a8a8" stroke-width="1"/>
<line x1="271.8" y1="289.2" x2="274.3" y2="289.2" stroke="#a8a8a8" stroke-width="1"/>
<line x1="457.8" y1="289.2" x2="455.3" y2="289.2" stroke="#a8a8a8" stroke-width="1"/>
<line x1="271.8" y1="280.6" x2="274.3" y2="280.6" stroke="#a8a8a8" stroke-width="1"/>
<line x1="457.8" y1="280.6" x2="455.3" y2="280.6" stroke="#a8a8a8" stroke-width="1"/>
<line x1="271.8" y1="273.5" x2="274.3" y2="273.5" stroke="#a8a8a8" stroke-width="1"/>
<line x1="457.8" y1="273.5" x2="455.3" y2="273.5" stroke="#a8a8a8" stroke-width="1"/>
<line x1="271.8" y1="267.6" x2="274.3" y2="267.6" stroke="#a8a8a8" stroke-width="1"/>
<line x1="457.8" y1="267.6" x2="455.3" y2="267.6" stroke="#a8a8a8" stroke-width="1"/>
<line x1="271.8" y1="262.4" x2="274.3" y2="262.4" stroke="#a8a8a8" stroke-width="1"/>
<line x1="457.8" y1="262.4" x2="455.3" y2="262.4" stroke="#a8a8a8" stroke-width="1"/>
<line x1="271.8" y1="257.9" x2="274.3" y2="257.9" stroke="#a8a8a8" stroke-width="1"/>
<line x1="457.8" y1="257.9" x2="455.3" y2="257.9" stroke="#a8a8a8" stroke-width="1"/>
<line x1="271.8" y1="253.8" x2="276.8" y2="253.8" stroke="#a8a8a8" stroke-width="1"/>
<line x1="457.8" y1="253.8" x2="452.8" y2="253.8" stroke="#a8a8a8" stroke-width="1"/>
<line x1="271.8" y1="227.0" x2="274.3" y2="227.0" stroke="#a8a8a8" stroke-width="1"/>
<line x1="457.8" y1="227.0" x2="455.3" y2="227.0" stroke="#a8a8a8" stroke-width="1"/>
<line x1="271.8" y1="211.3" x2="274.3" y2="211.3" stroke="#a8a8a8" stroke-width="1"/>
<line x1="457.8" y1="211.3" x2="455.3" y2="211.3" stroke="#a8a8a8" stroke-width="1"/>
<text x="245.4" y="262.5" font-size="16.4" textLength="14.8" lengthAdjust="spacingAndGlyphs">10</text>
<text x="260.4" y="252.9" font-size="12">-3</text>
<text x="245.2" y="351.5" font-size="16.4" textLength="14.8" lengthAdjust="spacingAndGlyphs">10</text>
<text x="260.2" y="341.9" font-size="12">-4</text>
<text x="387.5" y="361.9" font-size="16.4" textLength="14.8" lengthAdjust="spacingAndGlyphs">10</text>
<text x="402.5" y="352.3" font-size="12">0</text>
<line x1="385.00" y1="266.4" x2="385.00" y2="269.4" stroke="#b48a8a" stroke-width="0.8" opacity="0.55"/>
<line x1="385.50" y1="267.1" x2="385.50" y2="269.7" stroke="#b48a8a" stroke-width="0.8" opacity="0.55"/>
<line x1="386.00" y1="267.3" x2="386.00" y2="270.1" stroke="#b48a8a" stroke-width="0.8" opacity="0.55"/>
<line x1="386.50" y1="267.8" x2="386.50" y2="270.8" stroke="#b48a8a" stroke-width="0.8" opacity="0.55"/>
<line x1="387.00" y1="267.7" x2="387.00" y2="272.0" stroke="#b48a8a" stroke-width="0.8" opacity="0.55"/>
<line x1="387.50" y1="267.8" x2="387.50" y2="271.8" stroke="#b48a8a" stroke-width="0.8" opacity="0.55"/>
<line x1="388.00" y1="268.7" x2="388.00" y2="272.4" stroke="#b48a8a" stroke-width="0.8" opacity="0.55"/>
<line x1="388.50" y1="269.1" x2="388.50" y2="272.5" stroke="#b48a8a" stroke-width="0.8" opacity="0.55"/>
<line x1="389.00" y1="269.9" x2="389.00" y2="272.8" stroke="#b48a8a" stroke-width="0.8" opacity="0.55"/>
<line x1="389.50" y1="269.0" x2="389.50" y2="273.0" stroke="#b48a8a" stroke-width="0.8" opacity="0.55"/>
<line x1="390.00" y1="270.1" x2="390.00" y2="274.2" stroke="#b48a8a" stroke-width="0.8" opacity="0.55"/>
<line x1="390.50" y1="269.9" x2="390.50" y2="274.0" stroke="#b48a8a" stroke-width="0.8" opacity="0.55"/>
<line x1="391.00" y1="271.2" x2="391.00" y2="274.4" stroke="#b48a8a" stroke-width="0.8" opacity="0.55"/>
<line x1="391.50" y1="271.3" x2="391.50" y2="275.1" stroke="#b48a8a" stroke-width="0.8" opacity="0.55"/>
<line x1="392.00" y1="270.9" x2="392.00" y2="276.2" stroke="#b48a8a" stroke-width="0.8" opacity="0.55"/>
<line x1="392.50" y1="271.4" x2="392.50" y2="275.3" stroke="#b48a8a" stroke-width="0.8" opacity="0.55"/>
<line x1="393.00" y1="273.0" x2="393.00" y2="276.8" stroke="#b48a8a" stroke-width="0.8" opacity="0.55"/>
<line x1="393.50" y1="272.1" x2="393.50" y2="276.8" stroke="#b48a8a" stroke-width="0.8" opacity="0.55"/>
<line x1="394.00" y1="272.9" x2="394.00" y2="276.5" stroke="#b48a8a" stroke-width="0.8" opacity="0.55"/>
<line x1="394.50" y1="273.6" x2="394.50" y2="278.4" stroke="#b48a8a" stroke-width="0.8" opacity="0.55"/>
<line x1="395.00" y1="273.3" x2="395.00" y2="278.7" stroke="#b48a8a" stroke-width="0.8" opacity="0.55"/>
<line x1="395.50" y1="273.4" x2="395.50" y2="278.1" stroke="#b48a8a" stroke-width="0.8" opacity="0.55"/>
<line x1="396.00" y1="275.2" x2="396.00" y2="278.4" stroke="#b48a8a" stroke-width="0.8" opacity="0.55"/>
<line x1="396.50" y1="274.9" x2="396.50" y2="279.6" stroke="#b48a8a" stroke-width="0.8" opacity="0.55"/>
<line x1="397.00" y1="274.6" x2="397.00" y2="280.1" stroke="#b48a8a" stroke-width="0.8" opacity="0.55"/>
<line x1="397.50" y1="275.4" x2="397.50" y2="280.6" stroke="#b48a8a" stroke-width="0.8" opacity="0.55"/>
<line x1="398.00" y1="276.2" x2="398.00" y2="280.7" stroke="#b48a8a" stroke-width="0.8" opacity="0.55"/>
<line x1="398.50" y1="277.3" x2="398.50" y2="281.6" stroke="#b48a8a" stroke-width="0.8" opacity="0.55"/>
<line x1="399.00" y1="277.4" x2="399.00" y2="282.3" stroke="#b48a8a" stroke-width="0.8" opacity="0.55"/>
<line x1="399.50" y1="277.1" x2="399.50" y2="281.7" stroke="#b48a8a" stroke-width="0.8" opacity="0.55"/>
<line x1="400.00" y1="278.4" x2="400.00" y2="282.0" stroke="#b48a8a" stroke-width="0.8" opacity="0.55"/>
<line x1="400.50" y1="277.9" x2="400.50" y2="283.3" stroke="#b48a8a" stroke-width="0.8" opacity="0.55"/>
<line x1="401.00" y1="279.3" x2="401.00" y2="282.6" stroke="#b48a8a" stroke-width="0.8" opacity="0.55"/>
<line x1="401.50" y1="279.0" x2="401.50" y2="284.0" stroke="#b48a8a" stroke-width="0.8" opacity="0.55"/>
<line x1="402.00" y1="279.7" x2="402.00" y2="283.8" stroke="#b48a8a" stroke-width="0.8" opacity="0.55"/>
<line x1="402.50" y1="279.7" x2="402.50" y2="283.9" stroke="#b48a8a" stroke-width="0.8" opacity="0.55"/>
<line x1="403.00" y1="280.7" x2="403.00" y2="285.1" stroke="#b48a8a" stroke-width="0.8" opacity="0.55"/>
<line x1="403.50" y1="279.9" x2="403.50" y2="285.9" stroke="#b48a8a" stroke-width="0.8" opacity="0.55"/>
<line x1="404.00" y1="280.4" x2="404.00" y2="286.1" stroke="#b48a8a" stroke-width="0.8" opacity="0.55"/>
<line x1="404.50" y1="282.1" x2="404.50" y2="286.1" stroke="#b48a8a" stroke-width="0.8" opacity="0.55"/>
<line x1="405.00" y1="281.1" x2="405.00" y2="287.4" stroke="#b48a8a" stroke-width="0.8" opacity="0.55"/>
<line x1="405.50" y1="282.8" x2="405.50" y2="286.6" stroke="#b48a8a" stroke-width="0.8" opacity="0.55"/>
<line x1="406.00" y1="282.8" x2="406.00" y2="288.3" stroke="#b48a8a" stroke-width="0.8" opacity="0.55"/>
<line x1="406.50" y1="283.4" x2="406.50" y2="288.0" stroke="#b48a8a" stroke-width="0.8" opacity="0.55"/>
<line x1="407.00" y1="283.3" x2="407.00" y2="289.7" stroke="#b48a8a" stroke-width="0.8" opacity="0.55"/>
<line x1="407.50" y1="284.6" x2="407.50" y2="288.4" stroke="#b48a8a" stroke-width="0.8" opacity="0.55"/>
<line x1="408.00" y1="284.8" x2="408.00" y2="289.7" stroke="#b48a8a" stroke-width="0.8" opacity="0.55"/>
<line x1="408.50" y1="284.6" x2="408.50" y2="289.7" stroke="#b48a8a" stroke-width="0.8" opacity="0.55"/>
<line x1="409.00" y1="284.7" x2="409.00" y2="291.2" stroke="#b48a8a" stroke-width="0.8" opacity="0.55"/>
<line x1="409.50" y1="285.8" x2="409.50" y2="290.6" stroke="#b48a8a" stroke-width="0.8" opacity="0.55"/>
<line x1="410.00" y1="285.2" x2="410.00" y2="291.3" stroke="#b48a8a" stroke-width="0.8" opacity="0.55"/>
<line x1="410.50" y1="285.9" x2="410.50" y2="291.6" stroke="#b48a8a" stroke-width="0.8" opacity="0.55"/>
<line x1="411.00" y1="287.6" x2="411.00" y2="293.1" stroke="#b48a8a" stroke-width="0.8" opacity="0.55"/>
<line x1="411.50" y1="287.9" x2="411.50" y2="294.0" stroke="#b48a8a" stroke-width="0.8" opacity="0.55"/>
<line x1="412.00" y1="287.9" x2="412.00" y2="292.8" stroke="#b48a8a" stroke-width="0.8" opacity="0.55"/>
<line x1="412.50" y1="288.9" x2="412.50" y2="293.8" stroke="#b48a8a" stroke-width="0.8" opacity="0.55"/>
<line x1="413.00" y1="288.4" x2="413.00" y2="295.4" stroke="#b48a8a" stroke-width="0.8" opacity="0.55"/>
<line x1="413.50" y1="289.9" x2="413.50" y2="294.6" stroke="#b48a8a" stroke-width="0.8" opacity="0.55"/>
<line x1="414.00" y1="290.2" x2="414.00" y2="296.4" stroke="#b48a8a" stroke-width="0.8" opacity="0.55"/>
<line x1="414.50" y1="290.8" x2="414.50" y2="294.8" stroke="#b48a8a" stroke-width="0.8" opacity="0.55"/>
<line x1="415.00" y1="291.4" x2="415.00" y2="296.0" stroke="#b48a8a" stroke-width="0.8" opacity="0.55"/>
<line x1="415.50" y1="289.9" x2="415.50" y2="297.5" stroke="#b48a8a" stroke-width="0.8" opacity="0.55"/>
<line x1="416.00" y1="290.7" x2="416.00" y2="298.2" stroke="#b48a8a" stroke-width="0.8" opacity="0.55"/>
<line x1="416.50" y1="290.6" x2="416.50" y2="297.2" stroke="#b48a8a" stroke-width="0.8" opacity="0.55"/>
<line x1="417.00" y1="292.7" x2="417.00" y2="298.9" stroke="#b48a8a" stroke-width="0.8" opacity="0.55"/>
<line x1="417.50" y1="291.8" x2="417.50" y2="297.3" stroke="#b48a8a" stroke-width="0.8" opacity="0.55"/>
<line x1="418.00" y1="292.3" x2="418.00" y2="298.5" stroke="#b48a8a" stroke-width="0.8" opacity="0.55"/>
<line x1="418.50" y1="293.4" x2="418.50" y2="298.8" stroke="#b48a8a" stroke-width="0.8" opacity="0.55"/>
<line x1="419.00" y1="294.3" x2="419.00" y2="298.5" stroke="#b48a8a" stroke-width="0.8" opacity="0.55"/>
<line x1="419.50" y1="294.4" x2="419.50" y2="299.7" stroke="#b48a8a" stroke-width="0.8" opacity="0.55"/>
<line x1="420.00" y1="293.2" x2="420.00" y2="299.6" stroke="#b48a8a" stroke-width="0.8" opacity="0.55"/>
<line x1="420.50" y1="293.5" x2="420.50" y2="300.2" stroke="#b48a8a" stroke-width="0.8" opacity="0.55"/>
<line x1="421.00" y1="295.4" x2="421.00" y2="302.1" stroke="#b48a8a" stroke-width="0.8" opacity="0.55"/>
<line x1="421.50" y1="294.6" x2="421.50" y2="301.6" stroke="#b48a8a" stroke-width="0.8" opacity="0.55"/>
<line x1="422.00" y1="296.9" x2="422.00" y2="302.1" stroke="#b48a8a" stroke-width="0.8" opacity="0.55"/>
<line x1="422.50" y1="296.5" x2="422.50" y2="303.6" stroke="#b48a8a" stroke-width="0.8" opacity="0.55"/>
<line x1="423.00" y1="297.3" x2="423.00" y2="302.7" stroke="#b48a8a" stroke-width="0.8" opacity="0.55"/>
<line x1="423.50" y1="296.0" x2="423.50" y2="302.3" stroke="#b48a8a" stroke-width="0.8" opacity="0.55"/>
<line x1="424.00" y1="297.6" x2="424.00" y2="304.7" stroke="#b48a8a" stroke-width="0.8" opacity="0.55"/>
<line x1="424.50" y1="297.1" x2="424.50" y2="303.2" stroke="#b48a8a" stroke-width="0.8" opacity="0.55"/>
<line x1="425.00" y1="299.3" x2="425.00" y2="303.6" stroke="#b48a8a" stroke-width="0.8" opacity="0.55"/>
<line x1="425.50" y1="297.4" x2="425.50" y2="304.5" stroke="#b48a8a" stroke-width="0.8" opacity="0.55"/>
<line x1="426.00" y1="298.2" x2="426.00" y2="306.6" stroke="#b48a8a" stroke-width="0.8" opacity="0.55"/>
<line x1="426.50" y1="299.7" x2="426.50" y2="305.4" stroke="#b48a8a" stroke-width="0.8" opacity="0.55"/>
<line x1="427.00" y1="298.5" x2="427.00" y2="306.7" stroke="#b48a8a" stroke-width="0.8" opacity="0.55"/>
<line x1="427.50" y1="300.6" x2="427.50" y2="307.4" stroke="#b48a8a" stroke-width="0.8" opacity="0.55"/>
<line x1="428.00" y1="300.9" x2="428.00" y2="306.7" stroke="#b48a8a" stroke-width="0.8" opacity="0.55"/>
<line x1="428.50" y1="302.1" x2="428.50" y2="308.4" stroke="#b48a8a" stroke-width="0.8" opacity="0.55"/>
<line x1="429.00" y1="300.1" x2="429.00" y2="308.5" stroke="#b48a8a" stroke-width="0.8" opacity="0.55"/>
<line x1="429.50" y1="300.4" x2="429.50" y2="307.3" stroke="#b48a8a" stroke-width="0.8" opacity="0.55"/>
<line x1="430.00" y1="302.6" x2="430.00" y2="308.9" stroke="#b48a8a" stroke-width="0.8" opacity="0.55"/>
<line x1="430.50" y1="301.1" x2="430.50" y2="310.6" stroke="#b48a8a" stroke-width="0.8" opacity="0.55"/>
<line x1="431.00" y1="303.0" x2="431.00" y2="309.2" stroke="#b48a8a" stroke-width="0.8" opacity="0.55"/>
<line x1="431.50" y1="303.3" x2="431.50" y2="310.2" stroke="#b48a8a" stroke-width="0.8" opacity="0.55"/>
<line x1="432.00" y1="302.3" x2="432.00" y2="309.8" stroke="#b48a8a" stroke-width="0.8" opacity="0.55"/>
<line x1="432.50" y1="303.1" x2="432.50" y2="311.7" stroke="#b48a8a" stroke-width="0.8" opacity="0.55"/>
<line x1="433.00" y1="303.4" x2="433.00" y2="312.2" stroke="#b48a8a" stroke-width="0.8" opacity="0.55"/>
<line x1="433.50" y1="304.3" x2="433.50" y2="311.4" stroke="#b48a8a" stroke-width="0.8" opacity="0.55"/>
<line x1="434.00" y1="305.5" x2="434.00" y2="311.9" stroke="#b48a8a" stroke-width="0.8" opacity="0.55"/>
<line x1="434.50" y1="304.5" x2="434.50" y2="311.5" stroke="#b48a8a" stroke-width="0.8" opacity="0.55"/>
<line x1="435.00" y1="306.5" x2="435.00" y2="313.8" stroke="#b48a8a" stroke-width="0.8" opacity="0.55"/>
<line x1="435.50" y1="306.8" x2="435.50" y2="312.3" stroke="#b48a8a" stroke-width="0.8" opacity="0.55"/>
<line x1="436.00" y1="307.7" x2="436.00" y2="314.0" stroke="#b48a8a" stroke-width="0.8" opacity="0.55"/>
<line x1="436.50" y1="307.3" x2="436.50" y2="315.6" stroke="#b48a8a" stroke-width="0.8" opacity="0.55"/>
<line x1="437.00" y1="306.0" x2="437.00" y2="316.1" stroke="#b48a8a" stroke-width="0.8" opacity="0.55"/>
<line x1="437.50" y1="308.2" x2="437.50" y2="313.9" stroke="#b48a8a" stroke-width="0.8" opacity="0.55"/>
<line x1="438.00" y1="309.0" x2="438.00" y2="315.5" stroke="#b48a8a" stroke-width="0.8" opacity="0.55"/>
<line x1="438.50" y1="307.6" x2="438.50" y2="315.7" stroke="#b48a8a" stroke-width="0.8" opacity="0.55"/>
<line x1="439.00" y1="309.3" x2="439.00" y2="316.0" stroke="#b48a8a" stroke-width="0.8" opacity="0.55"/>
<line x1="439.50" y1="308.6" x2="439.50" y2="317.2" stroke="#b48a8a" stroke-width="0.8" opacity="0.55"/>
<line x1="440.00" y1="308.6" x2="440.00" y2="318.1" stroke="#b48a8a" stroke-width="0.8" opacity="0.55"/>
<line x1="440.50" y1="309.2" x2="440.50" y2="316.4" stroke="#b48a8a" stroke-width="0.8" opacity="0.55"/>
<line x1="441.00" y1="309.0" x2="441.00" y2="317.3" stroke="#b48a8a" stroke-width="0.8" opacity="0.55"/>
<line x1="441.50" y1="310.2" x2="441.50" y2="317.9" stroke="#b48a8a" stroke-width="0.8" opacity="0.55"/>
<line x1="442.00" y1="310.0" x2="442.00" y2="317.8" stroke="#b48a8a" stroke-width="0.8" opacity="0.55"/>
<line x1="442.50" y1="311.8" x2="442.50" y2="318.3" stroke="#b48a8a" stroke-width="0.8" opacity="0.55"/>
<line x1="443.00" y1="312.5" x2="443.00" y2="320.6" stroke="#b48a8a" stroke-width="0.8" opacity="0.55"/>
<line x1="443.50" y1="311.6" x2="443.50" y2="319.3" stroke="#b48a8a" stroke-width="0.8" opacity="0.55"/>
<line x1="444.00" y1="312.5" x2="444.00" y2="321.8" stroke="#b48a8a" stroke-width="0.8" opacity="0.55"/>
<line x1="444.50" y1="312.5" x2="444.50" y2="319.8" stroke="#b48a8a" stroke-width="0.8" opacity="0.55"/>
<line x1="445.00" y1="311.9" x2="445.00" y2="321.5" stroke="#b48a8a" stroke-width="0.8" opacity="0.55"/>
<line x1="445.50" y1="311.7" x2="445.50" y2="320.2" stroke="#b48a8a" stroke-width="0.8" opacity="0.55"/>
<line x1="446.00" y1="313.7" x2="446.00" y2="322.8" stroke="#b48a8a" stroke-width="0.8" opacity="0.55"/>
<line x1="446.50" y1="312.9" x2="446.50" y2="323.5" stroke="#b48a8a" stroke-width="0.8" opacity="0.55"/>
<line x1="447.00" y1="315.7" x2="447.00" y2="321.9" stroke="#b48a8a" stroke-width="0.8" opacity="0.55"/>
<line x1="447.50" y1="315.8" x2="447.50" y2="322.0" stroke="#b48a8a" stroke-width="0.8" opacity="0.55"/>
<line x1="448.00" y1="313.4" x2="448.00" y2="323.6" stroke="#b48a8a" stroke-width="0.8" opacity="0.55"/>
<line x1="448.50" y1="313.9" x2="448.50" y2="323.3" stroke="#b48a8a" stroke-width="0.8" opacity="0.55"/>
<line x1="449.00" y1="314.4" x2="449.00" y2="323.9" stroke="#b48a8a" stroke-width="0.8" opacity="0.55"/>
<line x1="449.50" y1="316.6" x2="449.50" y2="325.3" stroke="#b48a8a" stroke-width="0.8" opacity="0.55"/>
<line x1="450.00" y1="314.8" x2="450.00" y2="323.5" stroke="#b48a8a" stroke-width="0.8" opacity="0.55"/>
<line x1="450.50" y1="316.2" x2="450.50" y2="325.5" stroke="#b48a8a" stroke-width="0.8" opacity="0.55"/>
<line x1="451.00" y1="317.8" x2="451.00" y2="325.1" stroke="#b48a8a" stroke-width="0.8" opacity="0.55"/>
<line x1="451.50" y1="318.3" x2="451.50" y2="324.9" stroke="#b48a8a" stroke-width="0.8" opacity="0.55"/>
<line x1="452.00" y1="318.3" x2="452.00" y2="326.6" stroke="#b48a8a" stroke-width="0.8" opacity="0.55"/>
<line x1="452.50" y1="317.3" x2="452.50" y2="325.6" stroke="#b48a8a" stroke-width="0.8" opacity="0.55"/>
<line x1="453.00" y1="319.8" x2="453.00" y2="326.4" stroke="#b48a8a" stroke-width="0.8" opacity="0.55"/>
<line x1="453.50" y1="317.9" x2="453.50" y2="326.3" stroke="#b48a8a" stroke-width="0.8" opacity="0.55"/>
<line x1="454.00" y1="319.4" x2="454.00" y2="326.7" stroke="#b48a8a" stroke-width="0.8" opacity="0.55"/>
<line x1="454.50" y1="318.1" x2="454.50" y2="328.2" stroke="#b48a8a" stroke-width="0.8" opacity="0.55"/>
<line x1="455.00" y1="320.9" x2="455.00" y2="327.1" stroke="#b48a8a" stroke-width="0.8" opacity="0.55"/>
<line x1="455.50" y1="320.1" x2="455.50" y2="328.9" stroke="#b48a8a" stroke-width="0.8" opacity="0.55"/>
<line x1="456.00" y1="319.6" x2="456.00" y2="327.7" stroke="#b48a8a" stroke-width="0.8" opacity="0.55"/>
<line x1="456.50" y1="321.6" x2="456.50" y2="330.2" stroke="#b48a8a" stroke-width="0.8" opacity="0.55"/>
<line x1="457.00" y1="321.0" x2="457.00" y2="329.1" stroke="#b48a8a" stroke-width="0.8" opacity="0.55"/>
<polyline points="277.0,217.4 294.5,220.2 313.8,225.4 331.3,232.5 348.8,241.2 366.4,253.5 382.1,265.7 397.6,278.3 415.2,294.3 432.9,308.6 446.1,318.3 457.0,325.3" fill="none" stroke="#008a00" stroke-width="1.7" stroke-linejoin="round" stroke-linecap="round" />
<polyline points="277.0,216.6 294.5,219.4 313.8,224.6 331.3,231.7 348.8,240.4 366.4,252.7 382.1,264.9 397.6,277.5 415.2,293.5 432.9,307.8 446.1,317.5 457.0,324.5" fill="none" stroke="#ff0000" stroke-width="1.7" stroke-linejoin="round" stroke-linecap="round" />
<polyline points="277.0,223.4 294.5,225.2 313.8,229.0 331.3,234.3 343.6,238.7 354.1,243.9 366.4,251.8 382.1,263.2 397.6,275.5 415.2,291.5 432.9,307.0 446.1,318.5 457.0,328.8" fill="none" stroke="#0000ff" stroke-width="1.7" stroke-linejoin="round" stroke-linecap="round" />
<polyline points="277.0,218.0 294.5,220.6 313.8,225.5 331.3,232.5 348.8,241.3 366.4,253.5 382.1,265.8 397.6,278.0 415.2,293.5 432.9,307.8 446.1,317.8 457.0,325.3" fill="none" stroke="#00ffff" stroke-width="1.7" stroke-linejoin="round" stroke-linecap="round" />
<rect x="271.8" y="213.5" width="22.69999999999999" height="12.900000000000006" fill="none" stroke="#a8a8a8" stroke-width="1.2"/>
<line x1="271.8" y1="226.4" x2="274.4" y2="266.6" stroke="#a8a8a8" stroke-width="1"/>
<line x1="294.5" y1="226.4" x2="377.4" y2="266.6" stroke="#a8a8a8" stroke-width="1"/>
<rect x="274.4" y="266.6" width="103" height="71.5" fill="#fff" stroke="#c8c8c8" stroke-width="1"/>
<line x1="278.8" y1="338.1" x2="278.8" y2="336" stroke="#c0c0c0" stroke-width="0.8"/>
<line x1="303" y1="338.1" x2="303" y2="336" stroke="#c0c0c0" stroke-width="0.8"/>
<line x1="325" y1="338.1" x2="325" y2="336" stroke="#c0c0c0" stroke-width="0.8"/>
<line x1="346.6" y1="338.1" x2="346.6" y2="336" stroke="#c0c0c0" stroke-width="0.8"/>
<line x1="366.8" y1="338.1" x2="366.8" y2="336" stroke="#c0c0c0" stroke-width="0.8"/>
<line x1="274.4" y1="276" x2="276.4" y2="276" stroke="#c0c0c0" stroke-width="0.8"/>
<line x1="274.4" y1="285" x2="276.4" y2="285" stroke="#c0c0c0" stroke-width="0.8"/>
<line x1="274.4" y1="296" x2="276.4" y2="296" stroke="#c0c0c0" stroke-width="0.8"/>
<line x1="274.4" y1="311" x2="276.4" y2="311" stroke="#c0c0c0" stroke-width="0.8"/>
<line x1="303" y1="275.5" x2="303" y2="285.5" stroke="#f0dada" stroke-width="0.8"/>
<line x1="325" y1="280.5" x2="325" y2="290.5" stroke="#f0dada" stroke-width="0.8"/>
<line x1="346.6" y1="285" x2="346.6" y2="295" stroke="#f0dada" stroke-width="0.8"/>
<line x1="366.8" y1="289.7" x2="366.8" y2="299.7" stroke="#f0dada" stroke-width="0.8"/>
<polyline points="278.8,275.8 330.0,287.6 377.4,297.2" fill="none" stroke="#b48a8a" stroke-width="1.2" stroke-linejoin="round" stroke-linecap="round" />
<polyline points="278.8,281.3 328.0,289.5 377.4,297.8" fill="none" stroke="#ff0000" stroke-width="1.5" stroke-linejoin="round" stroke-linecap="round" />
<polyline points="278.8,285.5 328.0,293.0 377.4,300.7" fill="none" stroke="#008a00" stroke-width="1.5" stroke-linejoin="round" stroke-linecap="round" />
<polyline points="278.8,286.9 328.0,294.3 377.4,301.9" fill="none" stroke="#00ffff" stroke-width="1.6" stroke-linejoin="round" stroke-linecap="round" />
<polyline points="278.8,316.5 328.0,322.2 377.4,328.2" fill="none" stroke="#0000ff" stroke-width="1.4" stroke-linejoin="round" stroke-linecap="round" />
<rect x="488.5" y="211.4" width="187.5" height="131.70000000000002" fill="none" stroke="#c4c4c4" stroke-width="1.1"/>
<line x1="488.5" y1="211.4" x2="488.5" y2="216.4" stroke="#a8a8a8" stroke-width="1"/>
<line x1="488.5" y1="343.1" x2="488.5" y2="338.1" stroke="#a8a8a8" stroke-width="1"/>
<line x1="531.3" y1="211.4" x2="531.3" y2="213.9" stroke="#a8a8a8" stroke-width="1"/>
<line x1="531.3" y1="343.1" x2="531.3" y2="340.6" stroke="#a8a8a8" stroke-width="1"/>
<line x1="556.3" y1="211.4" x2="556.3" y2="213.9" stroke="#a8a8a8" stroke-width="1"/>
<line x1="556.3" y1="343.1" x2="556.3" y2="340.6" stroke="#a8a8a8" stroke-width="1"/>
<line x1="574.1" y1="211.4" x2="574.1" y2="213.9" stroke="#a8a8a8" stroke-width="1"/>
<line x1="574.1" y1="343.1" x2="574.1" y2="340.6" stroke="#a8a8a8" stroke-width="1"/>
<line x1="587.8" y1="211.4" x2="587.8" y2="213.9" stroke="#a8a8a8" stroke-width="1"/>
<line x1="587.8" y1="343.1" x2="587.8" y2="340.6" stroke="#a8a8a8" stroke-width="1"/>
<line x1="599.1" y1="211.4" x2="599.1" y2="213.9" stroke="#a8a8a8" stroke-width="1"/>
<line x1="599.1" y1="343.1" x2="599.1" y2="340.6" stroke="#a8a8a8" stroke-width="1"/>
<line x1="608.6" y1="211.4" x2="608.6" y2="213.9" stroke="#a8a8a8" stroke-width="1"/>
<line x1="608.6" y1="343.1" x2="608.6" y2="340.6" stroke="#a8a8a8" stroke-width="1"/>
<line x1="616.8" y1="211.4" x2="616.8" y2="213.9" stroke="#a8a8a8" stroke-width="1"/>
<line x1="616.8" y1="343.1" x2="616.8" y2="340.6" stroke="#a8a8a8" stroke-width="1"/>
<line x1="624.1" y1="211.4" x2="624.1" y2="213.9" stroke="#a8a8a8" stroke-width="1"/>
<line x1="624.1" y1="343.1" x2="624.1" y2="340.6" stroke="#a8a8a8" stroke-width="1"/>
<line x1="630.6" y1="211.4" x2="630.6" y2="216.4" stroke="#a8a8a8" stroke-width="1"/>
<line x1="630.6" y1="343.1" x2="630.6" y2="338.1" stroke="#a8a8a8" stroke-width="1"/>
<line x1="673.4" y1="211.4" x2="673.4" y2="213.9" stroke="#a8a8a8" stroke-width="1"/>
<line x1="673.4" y1="343.1" x2="673.4" y2="340.6" stroke="#a8a8a8" stroke-width="1"/>
<line x1="488.5" y1="343.0" x2="491.0" y2="343.0" stroke="#a8a8a8" stroke-width="1"/>
<line x1="676.0" y1="343.0" x2="673.5" y2="343.0" stroke="#a8a8a8" stroke-width="1"/>
<line x1="488.5" y1="338.2" x2="491.0" y2="338.2" stroke="#a8a8a8" stroke-width="1"/>
<line x1="676.0" y1="338.2" x2="673.5" y2="338.2" stroke="#a8a8a8" stroke-width="1"/>
<line x1="488.5" y1="333.9" x2="493.5" y2="333.9" stroke="#a8a8a8" stroke-width="1"/>
<line x1="676.0" y1="333.9" x2="671.0" y2="333.9" stroke="#a8a8a8" stroke-width="1"/>
<line x1="488.5" y1="305.6" x2="491.0" y2="305.6" stroke="#a8a8a8" stroke-width="1"/>
<line x1="676.0" y1="305.6" x2="673.5" y2="305.6" stroke="#a8a8a8" stroke-width="1"/>
<line x1="488.5" y1="289.1" x2="491.0" y2="289.1" stroke="#a8a8a8" stroke-width="1"/>
<line x1="676.0" y1="289.1" x2="673.5" y2="289.1" stroke="#a8a8a8" stroke-width="1"/>
<line x1="488.5" y1="277.3" x2="491.0" y2="277.3" stroke="#a8a8a8" stroke-width="1"/>
<line x1="676.0" y1="277.3" x2="673.5" y2="277.3" stroke="#a8a8a8" stroke-width="1"/>
<line x1="488.5" y1="268.2" x2="491.0" y2="268.2" stroke="#a8a8a8" stroke-width="1"/>
<line x1="676.0" y1="268.2" x2="673.5" y2="268.2" stroke="#a8a8a8" stroke-width="1"/>
<line x1="488.5" y1="260.8" x2="491.0" y2="260.8" stroke="#a8a8a8" stroke-width="1"/>
<line x1="676.0" y1="260.8" x2="673.5" y2="260.8" stroke="#a8a8a8" stroke-width="1"/>
<line x1="488.5" y1="254.5" x2="491.0" y2="254.5" stroke="#a8a8a8" stroke-width="1"/>
<line x1="676.0" y1="254.5" x2="673.5" y2="254.5" stroke="#a8a8a8" stroke-width="1"/>
<line x1="488.5" y1="249.0" x2="491.0" y2="249.0" stroke="#a8a8a8" stroke-width="1"/>
<line x1="676.0" y1="249.0" x2="673.5" y2="249.0" stroke="#a8a8a8" stroke-width="1"/>
<line x1="488.5" y1="244.2" x2="491.0" y2="244.2" stroke="#a8a8a8" stroke-width="1"/>
<line x1="676.0" y1="244.2" x2="673.5" y2="244.2" stroke="#a8a8a8" stroke-width="1"/>
<line x1="488.5" y1="239.9" x2="493.5" y2="239.9" stroke="#a8a8a8" stroke-width="1"/>
<line x1="676.0" y1="239.9" x2="671.0" y2="239.9" stroke="#a8a8a8" stroke-width="1"/>
<line x1="488.5" y1="211.6" x2="491.0" y2="211.6" stroke="#a8a8a8" stroke-width="1"/>
<line x1="676.0" y1="211.6" x2="673.5" y2="211.6" stroke="#a8a8a8" stroke-width="1"/>
<text x="466.0" y="248.0" font-size="16.4" textLength="14.8" lengthAdjust="spacingAndGlyphs">10</text>
<text x="481.0" y="238.4" font-size="12">0</text>
<text x="463.0" y="342.6" font-size="16.4" textLength="14.8" lengthAdjust="spacingAndGlyphs">10</text>
<text x="478.0" y="333.0" font-size="12">-1</text>
<text x="476.9" y="362.1" font-size="16.4" textLength="14.8" lengthAdjust="spacingAndGlyphs">10</text>
<text x="491.9" y="352.5" font-size="12">-1</text>
<text x="620.6" y="362.1" font-size="16.4" textLength="14.8" lengthAdjust="spacingAndGlyphs">10</text>
<text x="635.6" y="352.5" font-size="12">0</text>
<line x1="493.8" y1="220.5" x2="493.8" y2="261.4" stroke="#f0dada" stroke-width="0.8"/>
<line x1="491.8" y1="220.5" x2="495.8" y2="220.5" stroke="#f0dada" stroke-width="0.8"/>
<line x1="491.8" y1="261.4" x2="495.8" y2="261.4" stroke="#f0dada" stroke-width="0.8"/>
<line x1="501.3" y1="225.2" x2="501.3" y2="252.1" stroke="#f0dada" stroke-width="0.8"/>
<line x1="499.3" y1="225.2" x2="503.3" y2="225.2" stroke="#f0dada" stroke-width="0.8"/>
<line x1="499.3" y1="252.1" x2="503.3" y2="252.1" stroke="#f0dada" stroke-width="0.8"/>
<line x1="507.7" y1="228.2" x2="507.7" y2="243.7" stroke="#f0dada" stroke-width="0.8"/>
<line x1="505.7" y1="228.2" x2="509.7" y2="228.2" stroke="#f0dada" stroke-width="0.8"/>
<line x1="505.7" y1="243.7" x2="509.7" y2="243.7" stroke="#f0dada" stroke-width="0.8"/>
<line x1="513.6" y1="229.5" x2="513.6" y2="241" stroke="#f0dada" stroke-width="0.8"/>
<line x1="511.6" y1="229.5" x2="515.6" y2="229.5" stroke="#f0dada" stroke-width="0.8"/>
<line x1="511.6" y1="241" x2="515.6" y2="241" stroke="#f0dada" stroke-width="0.8"/>
<line x1="519.5" y1="230" x2="519.5" y2="240.5" stroke="#f0dada" stroke-width="0.8"/>
<line x1="517.5" y1="230" x2="521.5" y2="230" stroke="#f0dada" stroke-width="0.8"/>
<line x1="517.5" y1="240.5" x2="521.5" y2="240.5" stroke="#f0dada" stroke-width="0.8"/>
<line x1="525.1" y1="230.5" x2="525.1" y2="240" stroke="#f0dada" stroke-width="0.8"/>
<line x1="523.1" y1="230.5" x2="527.1" y2="230.5" stroke="#f0dada" stroke-width="0.8"/>
<line x1="523.1" y1="240" x2="527.1" y2="240" stroke="#f0dada" stroke-width="0.8"/>
<line x1="531" y1="231" x2="531" y2="240" stroke="#f0dada" stroke-width="0.8"/>
<line x1="529" y1="231" x2="533" y2="231" stroke="#f0dada" stroke-width="0.8"/>
<line x1="529" y1="240" x2="533" y2="240" stroke="#f0dada" stroke-width="0.8"/>
<polygon points="628.0,283.5 644.4,301.5 653.5,312.4 662.5,322.0 674.0,331.5 675.5,339.0 662.5,330.0 653.5,320.5 644.4,309.5 628.0,290.0" fill="#b48a8a" opacity="0.5"/>
<polyline points="493.8,235.8 501.0,236.2 507.7,235.8 513.6,234.5 518.7,236.1 524.6,234.5 529.6,236.1 540.0,237.5" fill="none" stroke="#b48a8a" stroke-width="1.2" stroke-linejoin="round" stroke-linecap="round" />
<polyline points="493.8,244.6 510.3,245.3 532.1,246.5 552.3,248.5 569.2,251.5 582.6,255.7 592.7,259.1 603.2,265.1 611.0,271.4 619.6,278.8 627.0,286.0 634.4,294.0 642.0,302.5 649.3,310.8 655.0,317.0 661.2,323.4 667.0,329.8 673.2,337.5 675.0,339.5" fill="none" stroke="#008a00" stroke-width="1.7" stroke-linejoin="round" stroke-linecap="round" />
<polyline points="493.8,235.3 510.3,236.3 532.1,238.3 552.3,241.2 569.2,245.4 582.6,251.3 592.7,257.2 603.2,265.1 611.0,271.6 619.6,279.1 627.0,286.2 634.4,294.0 642.0,302.3 649.3,310.4 655.0,316.3 661.2,322.3 667.0,328.4 673.2,334.8 675.0,336.5" fill="none" stroke="#ff0000" stroke-width="1.7" stroke-linejoin="round" stroke-linecap="round" />
<polyline points="493.8,245.4 510.3,246.1 532.1,247.3 552.3,249.3 569.2,252.3 582.6,256.5 592.7,259.9 603.2,265.1 611.0,272.1 619.6,279.5 627.0,286.7 634.4,294.7 642.0,303.2 649.3,311.5 655.0,317.7 661.2,324.1 667.0,330.5 673.2,338.2 675.0,340.2" fill="none" stroke="#0000ff" stroke-width="1.7" stroke-linejoin="round" stroke-linecap="round" />
<polyline points="493.8,237.0 510.3,237.8 532.1,239.5 552.3,242.4 569.2,247.1 582.6,253.0 603.2,265.1 611.0,271.6 619.6,279.1 627.0,286.2 634.4,294.0 642.0,302.3 649.3,310.4 655.0,316.3 661.2,322.2 667.0,328.1 673.2,334.2 675.0,335.8" fill="none" stroke="#00ffff" stroke-width="1.6" stroke-linejoin="round" stroke-linecap="round" />
<rect x="488.7" y="231.4" width="43.099999999999966" height="16.0" fill="none" stroke="#a8a8a8" stroke-width="1.2"/>
<line x1="488.7" y1="247.4" x2="491.3" y2="264.3" stroke="#a8a8a8" stroke-width="1"/>
<line x1="531.8" y1="247.4" x2="599.2" y2="264.3" stroke="#a8a8a8" stroke-width="1"/>
<rect x="491.3" y="264.3" width="107.9" height="75.1" fill="#fff" stroke="#c8c8c8" stroke-width="1"/>
<line x1="497.1" y1="266" x2="497.1" y2="338" stroke="#e6e0e0" stroke-width="0.8"/>
<line x1="518.8" y1="266" x2="518.8" y2="338" stroke="#e6e0e0" stroke-width="0.8"/>
<line x1="536.3" y1="266" x2="536.3" y2="338" stroke="#e6e0e0" stroke-width="0.8"/>
<line x1="553.3" y1="266" x2="553.3" y2="338" stroke="#e6e0e0" stroke-width="0.8"/>
<line x1="567.8" y1="266" x2="567.8" y2="338" stroke="#e6e0e0" stroke-width="0.8"/>
<line x1="582.4" y1="266" x2="582.4" y2="338" stroke="#e6e0e0" stroke-width="0.8"/>
<line x1="595.3" y1="266" x2="595.3" y2="338" stroke="#e6e0e0" stroke-width="0.8"/>
<polyline points="497.1,278.3 599.2,290.4" fill="none" stroke="#ff0000" stroke-width="1.7" stroke-linejoin="round" stroke-linecap="round" />
<polyline points="497.1,281.1 518.8,284.1 536.3,280.6 553.3,272.5 567.8,280.6 582.4,271.3 599.2,283.4" fill="none" stroke="#b48a8a" stroke-width="1.3" stroke-linejoin="round" stroke-linecap="round" />
<polyline points="497.1,285.3 550.0,290.5 599.2,296.5" fill="none" stroke="#00ffff" stroke-width="1.7" stroke-linejoin="round" stroke-linecap="round" />
<polyline points="497.1,322.6 550.0,325.8 599.2,329.6" fill="none" stroke="#008a00" stroke-width="1.7" stroke-linejoin="round" stroke-linecap="round" />
<polyline points="497.1,324.9 550.0,328.2 599.2,331.9" fill="none" stroke="#0000ff" stroke-width="1.7" stroke-linejoin="round" stroke-linecap="round" />
<rect x="603.3" y="217.4" width="65.2" height="13.3" fill="#fff" stroke="#b4b4b4" stroke-width="1"/>
<line x1="605.6" y1="223.3" x2="613.2" y2="223.3" stroke="#b48a8a" stroke-width="1.2"/>
<text x="617.3" y="226.0" font-size="10.5" text-anchor="start" font-weight="normal" font-style="normal" >Experiment</text>
<text x="27.5" y="202.8" font-size="18.5" text-anchor="start" font-weight="bold" font-style="normal" >(d)</text>
<text x="248.6" y="202.6" font-size="18.5" text-anchor="start" font-weight="bold" font-style="normal" >(e)</text>
<text x="466.6" y="202.8" font-size="18.5" text-anchor="start" font-weight="bold" font-style="normal" >(f)</text>
</svg></body></html>
